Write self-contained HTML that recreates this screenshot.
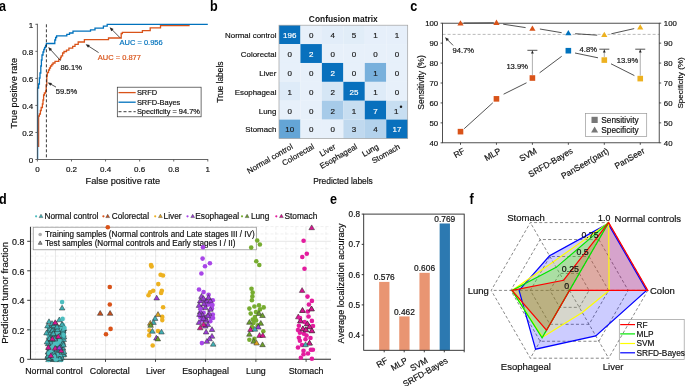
<!DOCTYPE html>
<html><head><meta charset="utf-8"><style>
html,body{margin:0;padding:0;background:#fff;}
svg{display:block;font-family:"Liberation Sans", sans-serif;will-change:transform;}
</style></head><body>
<svg width="685" height="386" viewBox="0 0 685 386">
<rect width="685" height="386" fill="#fff"/>
<text transform="translate(-0.90 10.90) scale(0.9 1)" font-size="14.0" font-weight="bold" fill="#000">a</text>
<text transform="translate(209.90 10.90) scale(0.9 1)" font-size="14.0" font-weight="bold" fill="#000">b</text>
<text transform="translate(410.20 10.90) scale(0.9 1)" font-size="14.0" font-weight="bold" fill="#000">c</text>
<text transform="translate(-1.00 204.00) scale(0.9 1)" font-size="14.0" font-weight="bold" fill="#000">d</text>
<text transform="translate(330.10 204.00) scale(0.9 1)" font-size="14.0" font-weight="bold" fill="#000">e</text>
<text transform="translate(469.60 204.00) scale(0.9 1)" font-size="14.0" font-weight="bold" fill="#000">f</text>
<path d="M38.6,147 V116 H39.4 V114 H40.4 V110.5 H41.2 V107.5 H42.4 V104 H43 V100 H43.6 V95 H44.4 V93 H45.6 V91 H46.2 V85 H46.8 V76 H47.3 V72.5 H48.5 V70 H49.5 V68 H50.5 V66 H51.8 V64.5 H53 V63 H55 V61.3 H58.8 V59.4 H60.5 V57.5 H61.2 V55.8 H62.6 V53 H64 V51.5 H66.5 V50.2 H68.9 V48.2 H72.7 V46.4 H75 V44.3 H78.2 V42 H84.4 V39.6 H108.5 V38 H121.2 V33.5 H122.4 V32.3 H142.4 V30.7 H150.2 V27.8 H160.5 V25.6 H189 V24.6" fill="none" stroke="#D95319" stroke-width="1.3"/>
<path d="M37.6,159.5 V88 H38.6 V84 H39.4 V78 H40 V73 H40.8 V66 H41.4 V60 H42 V55 H43 V52 H43.8 V49.5 H44.6 V47.5 H45.6 V45.5 H46.4 V43.5 H54.8 V40 H55.6 V37.5 H56.6 V35.8 H66.8 V34.4 H69.5 V33 H73 V31.2 H90.5 V29.8 H95 V28.2 H103.4 V26.2 H107.2 V24.3 H207.8" fill="none" stroke="#0072BD" stroke-width="1.3"/>
<line x1="46.40" y1="24.30" x2="46.40" y2="159.50" stroke="#262626" stroke-width="0.9" stroke-dasharray="3,2"/>
<line x1="37.40" y1="23.80" x2="37.40" y2="159.50" stroke="#555" stroke-width="0.9"/>
<line x1="37.40" y1="159.50" x2="208.20" y2="159.50" stroke="#555" stroke-width="0.9"/>
<line x1="35.40" y1="159.50" x2="37.40" y2="159.50" stroke="#555" stroke-width="0.9"/>
<line x1="37.40" y1="159.50" x2="37.40" y2="161.50" stroke="#555" stroke-width="0.9"/>
<text x="33.30" y="162.84" font-size="8.0" text-anchor="end" fill="#111" stroke="#111" stroke-width="0.18">0</text>
<text x="37.40" y="172.34" font-size="8.0" text-anchor="middle" fill="#111" stroke="#111" stroke-width="0.18">0</text>
<line x1="35.40" y1="132.46" x2="37.40" y2="132.46" stroke="#555" stroke-width="0.9"/>
<line x1="71.48" y1="159.50" x2="71.48" y2="161.50" stroke="#555" stroke-width="0.9"/>
<text x="33.30" y="135.80" font-size="8.0" text-anchor="end" fill="#111" stroke="#111" stroke-width="0.18">0.2</text>
<text x="71.48" y="172.34" font-size="8.0" text-anchor="middle" fill="#111" stroke="#111" stroke-width="0.18">0.2</text>
<line x1="35.40" y1="105.42" x2="37.40" y2="105.42" stroke="#555" stroke-width="0.9"/>
<line x1="105.56" y1="159.50" x2="105.56" y2="161.50" stroke="#555" stroke-width="0.9"/>
<text x="33.30" y="108.76" font-size="8.0" text-anchor="end" fill="#111" stroke="#111" stroke-width="0.18">0.4</text>
<text x="105.56" y="172.34" font-size="8.0" text-anchor="middle" fill="#111" stroke="#111" stroke-width="0.18">0.4</text>
<line x1="35.40" y1="78.38" x2="37.40" y2="78.38" stroke="#555" stroke-width="0.9"/>
<line x1="139.64" y1="159.50" x2="139.64" y2="161.50" stroke="#555" stroke-width="0.9"/>
<text x="33.30" y="81.72" font-size="8.0" text-anchor="end" fill="#111" stroke="#111" stroke-width="0.18">0.6</text>
<text x="139.64" y="172.34" font-size="8.0" text-anchor="middle" fill="#111" stroke="#111" stroke-width="0.18">0.6</text>
<line x1="35.40" y1="51.34" x2="37.40" y2="51.34" stroke="#555" stroke-width="0.9"/>
<line x1="173.72" y1="159.50" x2="173.72" y2="161.50" stroke="#555" stroke-width="0.9"/>
<text x="33.30" y="54.68" font-size="8.0" text-anchor="end" fill="#111" stroke="#111" stroke-width="0.18">0.8</text>
<text x="173.72" y="172.34" font-size="8.0" text-anchor="middle" fill="#111" stroke="#111" stroke-width="0.18">0.8</text>
<line x1="35.40" y1="24.30" x2="37.40" y2="24.30" stroke="#555" stroke-width="0.9"/>
<line x1="207.80" y1="159.50" x2="207.80" y2="161.50" stroke="#555" stroke-width="0.9"/>
<text x="33.30" y="27.64" font-size="8.0" text-anchor="end" fill="#111" stroke="#111" stroke-width="0.18">1</text>
<text x="207.80" y="172.34" font-size="8.0" text-anchor="middle" fill="#111" stroke="#111" stroke-width="0.18">1</text>
<text x="122.90" y="184.27" font-size="9.2" text-anchor="middle" fill="#111" stroke="#111" stroke-width="0.18">False positive rate</text>
<text x="13.70" y="96.47" font-size="9.2" text-anchor="middle" fill="#111" stroke="#111" stroke-width="0.18" transform="rotate(-90 13.70 93.20)">True positive rate</text>
<line x1="60.60" y1="60.60" x2="50.23" y2="49.31" stroke="#262626" stroke-width="0.8"/>
<polygon points="48.20,47.10 52.08,48.96 49.73,51.13" fill="#262626"/>
<text x="60.40" y="69.60" font-size="7.6" text-anchor="start" fill="#111" stroke="#111" stroke-width="0.18">86.1%</text>
<line x1="56.00" y1="87.10" x2="50.31" y2="83.88" stroke="#262626" stroke-width="0.8"/>
<polygon points="47.70,82.40 51.97,82.98 50.39,85.76" fill="#262626"/>
<text x="55.80" y="94.40" font-size="7.6" text-anchor="start" fill="#111" stroke="#111" stroke-width="0.18">59.5%</text>
<line x1="98.60" y1="52.60" x2="88.12" y2="45.83" stroke="#262626" stroke-width="0.8"/>
<polygon points="85.60,44.20 89.83,45.03 88.09,47.71" fill="#262626"/>
<text x="97.80" y="59.76" font-size="7.5" text-anchor="start" fill="#D95319" stroke="#D95319" stroke-width="0.18">AUC = 0.877</text>
<line x1="120.00" y1="37.70" x2="111.72" y2="29.42" stroke="#262626" stroke-width="0.8"/>
<polygon points="109.60,27.30 113.56,29.00 111.30,31.26" fill="#262626"/>
<text x="119.50" y="44.86" font-size="7.5" text-anchor="start" fill="#0072BD" stroke="#0072BD" stroke-width="0.18">AUC = 0.956</text>
<rect x="117.3" y="87.2" width="83.8" height="29.6" fill="#fff" stroke="#333" stroke-width="0.7"/>
<line x1="118.50" y1="92.60" x2="135.70" y2="92.60" stroke="#D95319" stroke-width="1.3"/>
<line x1="118.50" y1="102.20" x2="135.70" y2="102.20" stroke="#0072BD" stroke-width="1.3"/>
<line x1="118.50" y1="111.70" x2="135.70" y2="111.70" stroke="#262626" stroke-width="0.9" stroke-dasharray="3,2"/>
<text x="136.90" y="95.24" font-size="7.45" text-anchor="start" fill="#111" stroke="#111" stroke-width="0.18">SRFD</text>
<text x="136.90" y="104.84" font-size="7.45" text-anchor="start" fill="#111" stroke="#111" stroke-width="0.18">SRFD-Bayes</text>
<text x="136.90" y="114.34" font-size="7.45" text-anchor="start" fill="#111" stroke="#111" stroke-width="0.18">Specificity = 94.7%</text>
<rect x="279.00" y="25.20" width="21.50" height="18.93" fill="rgb(8, 112, 189)"/>
<rect x="300.45" y="25.20" width="21.50" height="18.93" fill="rgb(231, 240, 250)"/>
<rect x="321.90" y="25.20" width="21.50" height="18.93" fill="rgb(226, 237, 249)"/>
<rect x="343.35" y="25.20" width="21.50" height="18.93" fill="rgb(225, 237, 248)"/>
<rect x="364.80" y="25.20" width="21.50" height="18.93" fill="rgb(230, 239, 250)"/>
<rect x="386.25" y="25.20" width="21.50" height="18.93" fill="rgb(230, 239, 250)"/>
<rect x="279.00" y="44.08" width="21.50" height="18.93" fill="rgb(231, 240, 250)"/>
<rect x="300.45" y="44.08" width="21.50" height="18.93" fill="rgb(8, 112, 189)"/>
<rect x="321.90" y="44.08" width="21.50" height="18.93" fill="rgb(231, 240, 250)"/>
<rect x="343.35" y="44.08" width="21.50" height="18.93" fill="rgb(231, 240, 250)"/>
<rect x="364.80" y="44.08" width="21.50" height="18.93" fill="rgb(231, 240, 250)"/>
<rect x="386.25" y="44.08" width="21.50" height="18.93" fill="rgb(231, 240, 250)"/>
<rect x="279.00" y="62.96" width="21.50" height="18.93" fill="rgb(231, 240, 250)"/>
<rect x="300.45" y="62.96" width="21.50" height="18.93" fill="rgb(231, 240, 250)"/>
<rect x="321.90" y="62.96" width="21.50" height="18.93" fill="rgb(8, 112, 189)"/>
<rect x="343.35" y="62.96" width="21.50" height="18.93" fill="rgb(231, 240, 250)"/>
<rect x="364.80" y="62.96" width="21.50" height="18.93" fill="rgb(120, 176, 220)"/>
<rect x="386.25" y="62.96" width="21.50" height="18.93" fill="rgb(231, 240, 250)"/>
<rect x="279.00" y="81.84" width="21.50" height="18.93" fill="rgb(222, 235, 248)"/>
<rect x="300.45" y="81.84" width="21.50" height="18.93" fill="rgb(231, 240, 250)"/>
<rect x="321.90" y="81.84" width="21.50" height="18.93" fill="rgb(213, 230, 245)"/>
<rect x="343.35" y="81.84" width="21.50" height="18.93" fill="rgb(8, 112, 189)"/>
<rect x="364.80" y="81.84" width="21.50" height="18.93" fill="rgb(222, 235, 248)"/>
<rect x="386.25" y="81.84" width="21.50" height="18.93" fill="rgb(231, 240, 250)"/>
<rect x="279.00" y="100.72" width="21.50" height="18.93" fill="rgb(231, 240, 250)"/>
<rect x="300.45" y="100.72" width="21.50" height="18.93" fill="rgb(231, 240, 250)"/>
<rect x="321.90" y="100.72" width="21.50" height="18.93" fill="rgb(167, 203, 233)"/>
<rect x="343.35" y="100.72" width="21.50" height="18.93" fill="rgb(199, 222, 241)"/>
<rect x="364.80" y="100.72" width="21.50" height="18.93" fill="rgb(8, 112, 189)"/>
<rect x="386.25" y="100.72" width="21.50" height="18.93" fill="rgb(199, 222, 241)"/>
<rect x="279.00" y="119.60" width="21.50" height="18.93" fill="rgb(100, 165, 214)"/>
<rect x="300.45" y="119.60" width="21.50" height="18.93" fill="rgb(231, 240, 250)"/>
<rect x="321.90" y="119.60" width="21.50" height="18.93" fill="rgb(231, 240, 250)"/>
<rect x="343.35" y="119.60" width="21.50" height="18.93" fill="rgb(192, 217, 239)"/>
<rect x="364.80" y="119.60" width="21.50" height="18.93" fill="rgb(179, 210, 236)"/>
<rect x="386.25" y="119.60" width="21.50" height="18.93" fill="rgb(8, 112, 189)"/>
<text x="289.73" y="38.08" font-size="8.0" text-anchor="middle" fill="#fff" stroke="#fff" stroke-width="0.18">196</text>
<text x="311.18" y="38.08" font-size="8.0" text-anchor="middle" fill="#1a1a1a" stroke="#1a1a1a" stroke-width="0.18">0</text>
<text x="332.62" y="38.08" font-size="8.0" text-anchor="middle" fill="#1a1a1a" stroke="#1a1a1a" stroke-width="0.18">4</text>
<text x="354.07" y="38.08" font-size="8.0" text-anchor="middle" fill="#1a1a1a" stroke="#1a1a1a" stroke-width="0.18">5</text>
<text x="375.52" y="38.08" font-size="8.0" text-anchor="middle" fill="#1a1a1a" stroke="#1a1a1a" stroke-width="0.18">1</text>
<text x="396.98" y="38.08" font-size="8.0" text-anchor="middle" fill="#1a1a1a" stroke="#1a1a1a" stroke-width="0.18">1</text>
<text x="289.73" y="56.96" font-size="8.0" text-anchor="middle" fill="#1a1a1a" stroke="#1a1a1a" stroke-width="0.18">0</text>
<text x="311.18" y="56.96" font-size="8.0" text-anchor="middle" fill="#fff" stroke="#fff" stroke-width="0.18">2</text>
<text x="332.62" y="56.96" font-size="8.0" text-anchor="middle" fill="#1a1a1a" stroke="#1a1a1a" stroke-width="0.18">0</text>
<text x="354.07" y="56.96" font-size="8.0" text-anchor="middle" fill="#1a1a1a" stroke="#1a1a1a" stroke-width="0.18">0</text>
<text x="375.52" y="56.96" font-size="8.0" text-anchor="middle" fill="#1a1a1a" stroke="#1a1a1a" stroke-width="0.18">0</text>
<text x="396.98" y="56.96" font-size="8.0" text-anchor="middle" fill="#1a1a1a" stroke="#1a1a1a" stroke-width="0.18">0</text>
<text x="289.73" y="75.84" font-size="8.0" text-anchor="middle" fill="#1a1a1a" stroke="#1a1a1a" stroke-width="0.18">0</text>
<text x="311.18" y="75.84" font-size="8.0" text-anchor="middle" fill="#1a1a1a" stroke="#1a1a1a" stroke-width="0.18">0</text>
<text x="332.62" y="75.84" font-size="8.0" text-anchor="middle" fill="#fff" stroke="#fff" stroke-width="0.18">2</text>
<text x="354.07" y="75.84" font-size="8.0" text-anchor="middle" fill="#1a1a1a" stroke="#1a1a1a" stroke-width="0.18">0</text>
<text x="375.52" y="75.84" font-size="8.0" text-anchor="middle" fill="#1a1a1a" stroke="#1a1a1a" stroke-width="0.18">1</text>
<text x="396.98" y="75.84" font-size="8.0" text-anchor="middle" fill="#1a1a1a" stroke="#1a1a1a" stroke-width="0.18">0</text>
<text x="289.73" y="94.72" font-size="8.0" text-anchor="middle" fill="#1a1a1a" stroke="#1a1a1a" stroke-width="0.18">1</text>
<text x="311.18" y="94.72" font-size="8.0" text-anchor="middle" fill="#1a1a1a" stroke="#1a1a1a" stroke-width="0.18">0</text>
<text x="332.62" y="94.72" font-size="8.0" text-anchor="middle" fill="#1a1a1a" stroke="#1a1a1a" stroke-width="0.18">2</text>
<text x="354.07" y="94.72" font-size="8.0" text-anchor="middle" fill="#fff" stroke="#fff" stroke-width="0.18">25</text>
<text x="375.52" y="94.72" font-size="8.0" text-anchor="middle" fill="#1a1a1a" stroke="#1a1a1a" stroke-width="0.18">1</text>
<text x="396.98" y="94.72" font-size="8.0" text-anchor="middle" fill="#1a1a1a" stroke="#1a1a1a" stroke-width="0.18">0</text>
<text x="289.73" y="113.60" font-size="8.0" text-anchor="middle" fill="#1a1a1a" stroke="#1a1a1a" stroke-width="0.18">0</text>
<text x="311.18" y="113.60" font-size="8.0" text-anchor="middle" fill="#1a1a1a" stroke="#1a1a1a" stroke-width="0.18">0</text>
<text x="332.62" y="113.60" font-size="8.0" text-anchor="middle" fill="#1a1a1a" stroke="#1a1a1a" stroke-width="0.18">2</text>
<text x="354.07" y="113.60" font-size="8.0" text-anchor="middle" fill="#1a1a1a" stroke="#1a1a1a" stroke-width="0.18">1</text>
<text x="375.52" y="113.60" font-size="8.0" text-anchor="middle" fill="#fff" stroke="#fff" stroke-width="0.18">7</text>
<text x="396.28" y="113.60" font-size="8.0" text-anchor="middle" fill="#1a1a1a" stroke="#1a1a1a" stroke-width="0.18">1</text>
<circle cx="401.0" cy="106.7" r="1.25" fill="#1a1a1a"/>
<text x="289.73" y="132.48" font-size="8.0" text-anchor="middle" fill="#1a1a1a" stroke="#1a1a1a" stroke-width="0.18">10</text>
<text x="311.18" y="132.48" font-size="8.0" text-anchor="middle" fill="#1a1a1a" stroke="#1a1a1a" stroke-width="0.18">0</text>
<text x="332.62" y="132.48" font-size="8.0" text-anchor="middle" fill="#1a1a1a" stroke="#1a1a1a" stroke-width="0.18">0</text>
<text x="354.07" y="132.48" font-size="8.0" text-anchor="middle" fill="#1a1a1a" stroke="#1a1a1a" stroke-width="0.18">3</text>
<text x="375.52" y="132.48" font-size="8.0" text-anchor="middle" fill="#1a1a1a" stroke="#1a1a1a" stroke-width="0.18">4</text>
<text x="396.98" y="132.48" font-size="8.0" text-anchor="middle" fill="#fff" stroke="#fff" stroke-width="0.18">17</text>
<rect x="279.0" y="25.2" width="128.70" height="113.28" fill="none" stroke="#a0a0a0" stroke-width="0.7"/>
<text x="276.40" y="38.04" font-size="7.9" text-anchor="end" fill="#111" stroke="#111" stroke-width="0.18">Normal control</text>
<text x="276.40" y="56.92" font-size="7.9" text-anchor="end" fill="#111" stroke="#111" stroke-width="0.18">Colorectal</text>
<text x="276.40" y="75.80" font-size="7.9" text-anchor="end" fill="#111" stroke="#111" stroke-width="0.18">Liver</text>
<text x="276.40" y="94.68" font-size="7.9" text-anchor="end" fill="#111" stroke="#111" stroke-width="0.18">Esophageal</text>
<text x="276.40" y="113.56" font-size="7.9" text-anchor="end" fill="#111" stroke="#111" stroke-width="0.18">Lung</text>
<text x="276.40" y="132.44" font-size="7.9" text-anchor="end" fill="#111" stroke="#111" stroke-width="0.18">Stomach</text>
<text x="292.03" y="148.60" font-size="7.9" text-anchor="end" fill="#111" stroke="#111" stroke-width="0.18" transform="rotate(-30 292.03 145.80)">Normal control</text>
<text x="313.48" y="148.60" font-size="7.9" text-anchor="end" fill="#111" stroke="#111" stroke-width="0.18" transform="rotate(-30 313.48 145.80)">Colorectal</text>
<text x="334.93" y="148.60" font-size="7.9" text-anchor="end" fill="#111" stroke="#111" stroke-width="0.18" transform="rotate(-30 334.93 145.80)">Liver</text>
<text x="356.38" y="148.60" font-size="7.9" text-anchor="end" fill="#111" stroke="#111" stroke-width="0.18" transform="rotate(-30 356.38 145.80)">Esophageal</text>
<text x="377.82" y="148.60" font-size="7.9" text-anchor="end" fill="#111" stroke="#111" stroke-width="0.18" transform="rotate(-30 377.82 145.80)">Lung</text>
<text x="399.28" y="148.60" font-size="7.9" text-anchor="end" fill="#111" stroke="#111" stroke-width="0.18" transform="rotate(-30 399.28 145.80)">Stomach</text>
<text x="343.30" y="22.18" font-size="8.4" text-anchor="middle" font-weight="bold" fill="#111">Confusion matrix</text>
<text x="343.00" y="183.78" font-size="8.4" text-anchor="middle" fill="#111" stroke="#111" stroke-width="0.18">Predicted labels</text>
<text x="219.80" y="85.08" font-size="8.4" text-anchor="middle" fill="#111" stroke="#111" stroke-width="0.18" transform="rotate(-90 219.80 82.10)">True labels</text>
<line x1="442.60" y1="34.40" x2="659.20" y2="34.40" stroke="#aaa" stroke-width="0.8" stroke-dasharray="3,2"/>
<line x1="464.20" y1="128.70" x2="492.80" y2="102.80" stroke="#262626" stroke-width="0.8"/>
<line x1="503.60" y1="94.20" x2="526.50" y2="82.80" stroke="#262626" stroke-width="0.8"/>
<line x1="539.60" y1="72.80" x2="561.70" y2="56.30" stroke="#262626" stroke-width="0.8"/>
<line x1="575.00" y1="53.00" x2="598.00" y2="57.80" stroke="#262626" stroke-width="0.8"/>
<line x1="611.00" y1="63.80" x2="634.40" y2="75.60" stroke="#262626" stroke-width="0.8"/>
<line x1="463.80" y1="23.00" x2="493.80" y2="22.80" stroke="#262626" stroke-width="0.8"/>
<line x1="503.20" y1="24.20" x2="525.60" y2="27.60" stroke="#262626" stroke-width="0.8"/>
<line x1="539.90" y1="29.00" x2="561.70" y2="32.70" stroke="#262626" stroke-width="0.8"/>
<line x1="575.20" y1="33.70" x2="597.20" y2="35.20" stroke="#262626" stroke-width="0.8"/>
<line x1="611.30" y1="33.80" x2="634.20" y2="28.60" stroke="#262626" stroke-width="0.8"/>
<rect x="442.6" y="23.2" width="216.60" height="119.60" fill="none" stroke="#262626" stroke-width="0.8"/>
<line x1="440.60" y1="142.80" x2="442.60" y2="142.80" stroke="#262626" stroke-width="0.8"/>
<line x1="659.20" y1="142.80" x2="661.20" y2="142.80" stroke="#262626" stroke-width="0.8"/>
<text x="438.20" y="145.57" font-size="7.8" text-anchor="end" fill="#111" stroke="#111" stroke-width="0.18">40</text>
<text x="663.80" y="145.57" font-size="7.8" text-anchor="start" fill="#111" stroke="#111" stroke-width="0.18">40</text>
<line x1="440.60" y1="122.87" x2="442.60" y2="122.87" stroke="#262626" stroke-width="0.8"/>
<line x1="659.20" y1="122.87" x2="661.20" y2="122.87" stroke="#262626" stroke-width="0.8"/>
<text x="438.20" y="125.64" font-size="7.8" text-anchor="end" fill="#111" stroke="#111" stroke-width="0.18">50</text>
<text x="663.80" y="125.64" font-size="7.8" text-anchor="start" fill="#111" stroke="#111" stroke-width="0.18">50</text>
<line x1="440.60" y1="102.93" x2="442.60" y2="102.93" stroke="#262626" stroke-width="0.8"/>
<line x1="659.20" y1="102.93" x2="661.20" y2="102.93" stroke="#262626" stroke-width="0.8"/>
<text x="438.20" y="105.70" font-size="7.8" text-anchor="end" fill="#111" stroke="#111" stroke-width="0.18">60</text>
<text x="663.80" y="105.70" font-size="7.8" text-anchor="start" fill="#111" stroke="#111" stroke-width="0.18">60</text>
<line x1="440.60" y1="83.00" x2="442.60" y2="83.00" stroke="#262626" stroke-width="0.8"/>
<line x1="659.20" y1="83.00" x2="661.20" y2="83.00" stroke="#262626" stroke-width="0.8"/>
<text x="438.20" y="85.77" font-size="7.8" text-anchor="end" fill="#111" stroke="#111" stroke-width="0.18">70</text>
<text x="663.80" y="85.77" font-size="7.8" text-anchor="start" fill="#111" stroke="#111" stroke-width="0.18">70</text>
<line x1="440.60" y1="63.07" x2="442.60" y2="63.07" stroke="#262626" stroke-width="0.8"/>
<line x1="659.20" y1="63.07" x2="661.20" y2="63.07" stroke="#262626" stroke-width="0.8"/>
<text x="438.20" y="65.84" font-size="7.8" text-anchor="end" fill="#111" stroke="#111" stroke-width="0.18">80</text>
<text x="663.80" y="65.84" font-size="7.8" text-anchor="start" fill="#111" stroke="#111" stroke-width="0.18">80</text>
<line x1="440.60" y1="43.13" x2="442.60" y2="43.13" stroke="#262626" stroke-width="0.8"/>
<line x1="659.20" y1="43.13" x2="661.20" y2="43.13" stroke="#262626" stroke-width="0.8"/>
<text x="438.20" y="45.90" font-size="7.8" text-anchor="end" fill="#111" stroke="#111" stroke-width="0.18">90</text>
<text x="663.80" y="45.90" font-size="7.8" text-anchor="start" fill="#111" stroke="#111" stroke-width="0.18">90</text>
<line x1="440.60" y1="23.20" x2="442.60" y2="23.20" stroke="#262626" stroke-width="0.8"/>
<line x1="659.20" y1="23.20" x2="661.20" y2="23.20" stroke="#262626" stroke-width="0.8"/>
<text x="438.20" y="25.97" font-size="7.8" text-anchor="end" fill="#111" stroke="#111" stroke-width="0.18">100</text>
<text x="663.80" y="25.97" font-size="7.8" text-anchor="start" fill="#111" stroke="#111" stroke-width="0.18">100</text>
<line x1="460.50" y1="142.80" x2="460.50" y2="144.80" stroke="#262626" stroke-width="0.8"/>
<text x="464.10" y="153.02" font-size="8.5" text-anchor="end" fill="#111" stroke="#111" stroke-width="0.18" transform="rotate(-30 464.10 150.00)">RF</text>
<line x1="496.45" y1="142.80" x2="496.45" y2="144.80" stroke="#262626" stroke-width="0.8"/>
<text x="500.05" y="153.02" font-size="8.5" text-anchor="end" fill="#111" stroke="#111" stroke-width="0.18" transform="rotate(-30 500.05 150.00)">MLP</text>
<line x1="532.40" y1="142.80" x2="532.40" y2="144.80" stroke="#262626" stroke-width="0.8"/>
<text x="536.00" y="153.02" font-size="8.5" text-anchor="end" fill="#111" stroke="#111" stroke-width="0.18" transform="rotate(-30 536.00 150.00)">SVM</text>
<line x1="568.35" y1="142.80" x2="568.35" y2="144.80" stroke="#262626" stroke-width="0.8"/>
<text x="571.95" y="153.02" font-size="8.5" text-anchor="end" fill="#111" stroke="#111" stroke-width="0.18" transform="rotate(-30 571.95 150.00)">SRFD-Bayes</text>
<line x1="604.30" y1="142.80" x2="604.30" y2="144.80" stroke="#262626" stroke-width="0.8"/>
<text x="607.90" y="153.02" font-size="8.5" text-anchor="end" fill="#111" stroke="#111" stroke-width="0.18" transform="rotate(-30 607.90 150.00)">PanSeer(part)</text>
<line x1="640.25" y1="142.80" x2="640.25" y2="144.80" stroke="#262626" stroke-width="0.8"/>
<text x="643.85" y="153.02" font-size="8.5" text-anchor="end" fill="#111" stroke="#111" stroke-width="0.18" transform="rotate(-30 643.85 150.00)">PanSeer</text>
<line x1="532.40" y1="50.30" x2="532.40" y2="75.02" stroke="#9a9a9a" stroke-width="0.8"/>
<line x1="527.40" y1="50.30" x2="537.40" y2="50.30" stroke="#262626" stroke-width="0.8"/>
<polygon points="532.40,50.60 531.00,53.60 533.80,53.60" fill="#262626"/>
<line x1="604.30" y1="49.20" x2="604.30" y2="57.08" stroke="#9a9a9a" stroke-width="0.8"/>
<line x1="599.30" y1="49.20" x2="609.30" y2="49.20" stroke="#262626" stroke-width="0.8"/>
<polygon points="604.30,49.50 602.90,52.50 605.70,52.50" fill="#262626"/>
<line x1="640.25" y1="49.20" x2="640.25" y2="75.61" stroke="#9a9a9a" stroke-width="0.8"/>
<line x1="635.25" y1="49.20" x2="645.25" y2="49.20" stroke="#262626" stroke-width="0.8"/>
<polygon points="640.25,49.50 638.85,52.50 641.65,52.50" fill="#262626"/>
<text x="506.40" y="69.30" font-size="7.6" text-anchor="start" fill="#111" stroke="#111" stroke-width="0.18">13.9%</text>
<text x="579.60" y="51.70" font-size="7.6" text-anchor="start" fill="#111" stroke="#111" stroke-width="0.18">4.8%</text>
<text x="616.80" y="62.90" font-size="7.6" text-anchor="start" fill="#111" stroke="#111" stroke-width="0.18">13.9%</text>
<line x1="453.10" y1="45.40" x2="447.11" y2="39.33" stroke="#262626" stroke-width="0.8"/>
<polygon points="445.00,37.20 448.95,38.92 446.67,41.17" fill="#262626"/>
<text x="452.60" y="53.10" font-size="7.6" text-anchor="start" fill="#111" stroke="#111" stroke-width="0.18">94.7%</text>
<rect x="457.70" y="128.84" width="5.6" height="5.6" fill="#D95319"/>
<polygon points="460.50,20.20 457.40,25.50 463.60,25.50" fill="#D95319"/>
<rect x="493.65" y="96.05" width="5.6" height="5.6" fill="#D95319"/>
<polygon points="496.45,19.60 493.35,24.90 499.55,24.90" fill="#D95319"/>
<rect x="529.60" y="75.22" width="5.6" height="5.6" fill="#D95319"/>
<polygon points="532.40,25.38 529.30,30.68 535.50,30.68" fill="#D95319"/>
<rect x="565.55" y="47.91" width="5.6" height="5.6" fill="#0072BD"/>
<polygon points="568.35,29.97 565.25,35.27 571.45,35.27" fill="#0072BD"/>
<rect x="601.50" y="57.28" width="5.6" height="5.6" fill="#EDB120"/>
<polygon points="604.30,31.76 601.20,37.06 607.40,37.06" fill="#EDB120"/>
<rect x="637.45" y="75.81" width="5.6" height="5.6" fill="#EDB120"/>
<polygon points="640.25,24.19 637.15,29.49 643.35,29.49" fill="#EDB120"/>
<text x="420.60" y="85.45" font-size="8.6" text-anchor="middle" fill="#111" stroke="#111" stroke-width="0.18" transform="rotate(-90 420.60 82.40)">Sensitivity (%)</text>
<text x="680.30" y="85.78" font-size="8.1" text-anchor="middle" fill="#111" stroke="#111" stroke-width="0.18" transform="rotate(-90 680.30 82.90)">Specificity (%)</text>
<rect x="585.4" y="113.5" width="61.3" height="23" fill="#fff" stroke="#999" stroke-width="0.7"/>
<rect x="591.5" y="116.8" width="6.2" height="6.2" fill="#777"/>
<polygon points="594.6,126.6 591.1,132.5 598.1,132.5" fill="#777"/>
<text x="601.30" y="123.15" font-size="8.3" text-anchor="start" fill="#111" stroke="#111" stroke-width="0.18">Sensitivity</text>
<text x="601.30" y="132.85" font-size="8.3" text-anchor="start" fill="#111" stroke="#111" stroke-width="0.18">Specificity</text>
<line x1="30.50" y1="359.30" x2="331.00" y2="359.30" stroke="#dcdcdc" stroke-width="0.7"/>
<line x1="30.50" y1="351.93" x2="331.00" y2="351.93" stroke="#e6e6e6" stroke-width="0.6" stroke-dasharray="3,2"/>
<line x1="30.50" y1="344.55" x2="331.00" y2="344.55" stroke="#e6e6e6" stroke-width="0.6" stroke-dasharray="3,2"/>
<line x1="30.50" y1="337.18" x2="331.00" y2="337.18" stroke="#e6e6e6" stroke-width="0.6" stroke-dasharray="3,2"/>
<line x1="30.50" y1="329.80" x2="331.00" y2="329.80" stroke="#dcdcdc" stroke-width="0.7"/>
<line x1="30.50" y1="322.43" x2="331.00" y2="322.43" stroke="#e6e6e6" stroke-width="0.6" stroke-dasharray="3,2"/>
<line x1="30.50" y1="315.05" x2="331.00" y2="315.05" stroke="#e6e6e6" stroke-width="0.6" stroke-dasharray="3,2"/>
<line x1="30.50" y1="307.68" x2="331.00" y2="307.68" stroke="#e6e6e6" stroke-width="0.6" stroke-dasharray="3,2"/>
<line x1="30.50" y1="300.30" x2="331.00" y2="300.30" stroke="#dcdcdc" stroke-width="0.7"/>
<line x1="30.50" y1="292.93" x2="331.00" y2="292.93" stroke="#e6e6e6" stroke-width="0.6" stroke-dasharray="3,2"/>
<line x1="30.50" y1="285.55" x2="331.00" y2="285.55" stroke="#e6e6e6" stroke-width="0.6" stroke-dasharray="3,2"/>
<line x1="30.50" y1="278.18" x2="331.00" y2="278.18" stroke="#e6e6e6" stroke-width="0.6" stroke-dasharray="3,2"/>
<line x1="30.50" y1="270.80" x2="331.00" y2="270.80" stroke="#dcdcdc" stroke-width="0.7"/>
<line x1="30.50" y1="263.43" x2="331.00" y2="263.43" stroke="#e6e6e6" stroke-width="0.6" stroke-dasharray="3,2"/>
<line x1="30.50" y1="256.05" x2="331.00" y2="256.05" stroke="#e6e6e6" stroke-width="0.6" stroke-dasharray="3,2"/>
<line x1="30.50" y1="248.68" x2="331.00" y2="248.68" stroke="#e6e6e6" stroke-width="0.6" stroke-dasharray="3,2"/>
<line x1="30.50" y1="241.30" x2="331.00" y2="241.30" stroke="#dcdcdc" stroke-width="0.7"/>
<line x1="30.50" y1="233.93" x2="331.00" y2="233.93" stroke="#e6e6e6" stroke-width="0.6" stroke-dasharray="3,2"/>
<line x1="30.50" y1="226.55" x2="331.00" y2="226.55" stroke="#e6e6e6" stroke-width="0.6" stroke-dasharray="3,2"/>
<line x1="35.40" y1="226.80" x2="35.40" y2="359.30" stroke="#e6e6e6" stroke-width="0.6" stroke-dasharray="3,2"/>
<line x1="45.42" y1="226.80" x2="45.42" y2="359.30" stroke="#e6e6e6" stroke-width="0.6" stroke-dasharray="3,2"/>
<line x1="55.44" y1="226.80" x2="55.44" y2="359.30" stroke="#dcdcdc" stroke-width="0.7"/>
<line x1="65.46" y1="226.80" x2="65.46" y2="359.30" stroke="#e6e6e6" stroke-width="0.6" stroke-dasharray="3,2"/>
<line x1="75.48" y1="226.80" x2="75.48" y2="359.30" stroke="#e6e6e6" stroke-width="0.6" stroke-dasharray="3,2"/>
<line x1="85.50" y1="226.80" x2="85.50" y2="359.30" stroke="#e6e6e6" stroke-width="0.6" stroke-dasharray="3,2"/>
<line x1="95.52" y1="226.80" x2="95.52" y2="359.30" stroke="#e6e6e6" stroke-width="0.6" stroke-dasharray="3,2"/>
<line x1="105.54" y1="226.80" x2="105.54" y2="359.30" stroke="#dcdcdc" stroke-width="0.7"/>
<line x1="115.56" y1="226.80" x2="115.56" y2="359.30" stroke="#e6e6e6" stroke-width="0.6" stroke-dasharray="3,2"/>
<line x1="125.58" y1="226.80" x2="125.58" y2="359.30" stroke="#e6e6e6" stroke-width="0.6" stroke-dasharray="3,2"/>
<line x1="135.60" y1="226.80" x2="135.60" y2="359.30" stroke="#e6e6e6" stroke-width="0.6" stroke-dasharray="3,2"/>
<line x1="145.62" y1="226.80" x2="145.62" y2="359.30" stroke="#e6e6e6" stroke-width="0.6" stroke-dasharray="3,2"/>
<line x1="155.64" y1="226.80" x2="155.64" y2="359.30" stroke="#dcdcdc" stroke-width="0.7"/>
<line x1="165.66" y1="226.80" x2="165.66" y2="359.30" stroke="#e6e6e6" stroke-width="0.6" stroke-dasharray="3,2"/>
<line x1="175.68" y1="226.80" x2="175.68" y2="359.30" stroke="#e6e6e6" stroke-width="0.6" stroke-dasharray="3,2"/>
<line x1="185.70" y1="226.80" x2="185.70" y2="359.30" stroke="#e6e6e6" stroke-width="0.6" stroke-dasharray="3,2"/>
<line x1="195.72" y1="226.80" x2="195.72" y2="359.30" stroke="#e6e6e6" stroke-width="0.6" stroke-dasharray="3,2"/>
<line x1="205.74" y1="226.80" x2="205.74" y2="359.30" stroke="#dcdcdc" stroke-width="0.7"/>
<line x1="215.76" y1="226.80" x2="215.76" y2="359.30" stroke="#e6e6e6" stroke-width="0.6" stroke-dasharray="3,2"/>
<line x1="225.78" y1="226.80" x2="225.78" y2="359.30" stroke="#e6e6e6" stroke-width="0.6" stroke-dasharray="3,2"/>
<line x1="235.80" y1="226.80" x2="235.80" y2="359.30" stroke="#e6e6e6" stroke-width="0.6" stroke-dasharray="3,2"/>
<line x1="245.82" y1="226.80" x2="245.82" y2="359.30" stroke="#e6e6e6" stroke-width="0.6" stroke-dasharray="3,2"/>
<line x1="255.84" y1="226.80" x2="255.84" y2="359.30" stroke="#dcdcdc" stroke-width="0.7"/>
<line x1="265.86" y1="226.80" x2="265.86" y2="359.30" stroke="#e6e6e6" stroke-width="0.6" stroke-dasharray="3,2"/>
<line x1="275.88" y1="226.80" x2="275.88" y2="359.30" stroke="#e6e6e6" stroke-width="0.6" stroke-dasharray="3,2"/>
<line x1="285.90" y1="226.80" x2="285.90" y2="359.30" stroke="#e6e6e6" stroke-width="0.6" stroke-dasharray="3,2"/>
<line x1="295.92" y1="226.80" x2="295.92" y2="359.30" stroke="#e6e6e6" stroke-width="0.6" stroke-dasharray="3,2"/>
<line x1="305.94" y1="226.80" x2="305.94" y2="359.30" stroke="#dcdcdc" stroke-width="0.7"/>
<line x1="315.96" y1="226.80" x2="315.96" y2="359.30" stroke="#e6e6e6" stroke-width="0.6" stroke-dasharray="3,2"/>
<line x1="325.98" y1="226.80" x2="325.98" y2="359.30" stroke="#e6e6e6" stroke-width="0.6" stroke-dasharray="3,2"/>
<line x1="30.50" y1="226.80" x2="30.50" y2="359.30" stroke="#333" stroke-width="1.1"/>
<line x1="30.50" y1="359.30" x2="331.00" y2="359.30" stroke="#333" stroke-width="1.1"/>
<line x1="27.20" y1="359.30" x2="30.50" y2="359.30" stroke="#262626" stroke-width="0.9"/>
<text x="24.40" y="363.06" font-size="8.9" text-anchor="end" fill="#111" stroke="#111" stroke-width="0.18">0</text>
<line x1="27.20" y1="329.80" x2="30.50" y2="329.80" stroke="#262626" stroke-width="0.9"/>
<text x="24.40" y="333.56" font-size="8.9" text-anchor="end" fill="#111" stroke="#111" stroke-width="0.18">0.2</text>
<line x1="27.20" y1="300.30" x2="30.50" y2="300.30" stroke="#262626" stroke-width="0.9"/>
<text x="24.40" y="304.06" font-size="8.9" text-anchor="end" fill="#111" stroke="#111" stroke-width="0.18">0.4</text>
<line x1="27.20" y1="270.80" x2="30.50" y2="270.80" stroke="#262626" stroke-width="0.9"/>
<text x="24.40" y="274.56" font-size="8.9" text-anchor="end" fill="#111" stroke="#111" stroke-width="0.18">0.6</text>
<line x1="27.20" y1="241.30" x2="30.50" y2="241.30" stroke="#262626" stroke-width="0.9"/>
<text x="24.40" y="245.06" font-size="8.9" text-anchor="end" fill="#111" stroke="#111" stroke-width="0.18">0.8</text>
<line x1="55.50" y1="359.30" x2="55.50" y2="361.90" stroke="#333" stroke-width="0.9"/>
<text x="53.90" y="373.74" font-size="8.85" text-anchor="middle" fill="#111" stroke="#111" stroke-width="0.18">Normal control</text>
<line x1="105.50" y1="359.30" x2="105.50" y2="361.90" stroke="#333" stroke-width="0.9"/>
<text x="109.70" y="373.74" font-size="8.85" text-anchor="middle" fill="#111" stroke="#111" stroke-width="0.18">Colorectal</text>
<line x1="155.50" y1="359.30" x2="155.50" y2="361.90" stroke="#333" stroke-width="0.9"/>
<text x="155.50" y="373.74" font-size="8.85" text-anchor="middle" fill="#111" stroke="#111" stroke-width="0.18">Liver</text>
<line x1="205.50" y1="359.30" x2="205.50" y2="361.90" stroke="#333" stroke-width="0.9"/>
<text x="205.50" y="373.74" font-size="8.85" text-anchor="middle" fill="#111" stroke="#111" stroke-width="0.18">Esophageal</text>
<line x1="255.90" y1="359.30" x2="255.90" y2="361.90" stroke="#333" stroke-width="0.9"/>
<text x="255.90" y="373.74" font-size="8.85" text-anchor="middle" fill="#111" stroke="#111" stroke-width="0.18">Lung</text>
<line x1="306.10" y1="359.30" x2="306.10" y2="361.90" stroke="#333" stroke-width="0.9"/>
<text x="306.10" y="373.74" font-size="8.85" text-anchor="middle" fill="#111" stroke="#111" stroke-width="0.18">Stomach</text>
<text x="5.00" y="296.31" font-size="9.6" text-anchor="middle" fill="#111" stroke="#111" stroke-width="0.18" transform="rotate(-90 5.00 292.90)">Predicted tumor fraction</text>
<rect x="33.2" y="227.2" width="223.1" height="22.6" fill="#fff" fill-opacity="0.85" stroke="#888" stroke-width="0.7"/>
<circle cx="40.2" cy="234.5" r="1.8" fill="#aaa"/>
<polygon points="40.2,240.9 38.3,244.3 42.1,244.3" fill="#999" stroke="#333" stroke-width="0.6"/>
<text x="45.00" y="237.39" font-size="8.15" text-anchor="start" fill="#111" stroke="#111" stroke-width="0.18">Training samples (Normal controls and Late stages III / IV)</text>
<text x="45.00" y="246.19" font-size="8.15" text-anchor="start" fill="#111" stroke="#111" stroke-width="0.18">Test samples (Normal controls and Early stages I / II)</text>
<circle cx="36.1" cy="216.3" r="1.1" fill="#4DBEC0"/>
<polygon points="41.0,214.2 39.1,217.6 42.9,217.6" fill="#3FB0B5" stroke="#333" stroke-width="0.4"/>
<text x="44.50" y="219.25" font-size="8.3" text-anchor="start" fill="#111" stroke="#111" stroke-width="0.18">Normal control</text>
<circle cx="103.4" cy="216.3" r="1.1" fill="#D95319"/>
<polygon points="107.7,214.2 105.8,217.6 109.60000000000001,217.6" fill="#C8501E" stroke="#333" stroke-width="0.4"/>
<text x="111.70" y="219.25" font-size="8.3" text-anchor="start" fill="#111" stroke="#111" stroke-width="0.18">Colorectal</text>
<circle cx="155.2" cy="216.3" r="1.1" fill="#EDB120"/>
<polygon points="160.4,214.2 158.5,217.6 162.3,217.6" fill="#E0A520" stroke="#333" stroke-width="0.4"/>
<text x="163.60" y="219.25" font-size="8.3" text-anchor="start" fill="#111" stroke="#111" stroke-width="0.18">Liver</text>
<circle cx="187.5" cy="216.3" r="1.1" fill="#A846E8"/>
<polygon points="192.7,214.2 190.79999999999998,217.6 194.6,217.6" fill="#9A3CD8" stroke="#333" stroke-width="0.4"/>
<text x="195.30" y="219.25" font-size="8.3" text-anchor="start" fill="#111" stroke="#111" stroke-width="0.18">Esophageal</text>
<circle cx="242.0" cy="216.3" r="1.1" fill="#77AC30"/>
<polygon points="247.1,214.2 245.2,217.6 249.0,217.6" fill="#6B9E2A" stroke="#333" stroke-width="0.4"/>
<text x="250.90" y="219.25" font-size="8.3" text-anchor="start" fill="#111" stroke="#111" stroke-width="0.18">Lung</text>
<circle cx="276.3" cy="216.3" r="1.1" fill="#E31C9E"/>
<polygon points="281.4,214.2 279.5,217.6 283.29999999999995,217.6" fill="#D81490" stroke="#333" stroke-width="0.4"/>
<text x="284.50" y="219.25" font-size="8.3" text-anchor="start" fill="#111" stroke="#111" stroke-width="0.18">Stomach</text>
<polygon points="56.5,351.4 53.7,356.2 59.3,356.2" fill="#3FB0B5" stroke="#2a2a2a" stroke-width="0.5"/>
<circle cx="57.9" cy="340.8" r="2.3" fill="#4DBEC0"/>
<circle cx="61.4" cy="359.9" r="2.3" fill="#4DBEC0"/>
<polygon points="64.0,351.5 61.2,356.3 66.8,356.3" fill="#3FB0B5" stroke="#2a2a2a" stroke-width="0.5"/>
<polygon points="55.4,327.8 52.6,332.6 58.2,332.6" fill="#3FB0B5" stroke="#2a2a2a" stroke-width="0.5"/>
<polygon points="58.0,353.9 55.2,358.7 60.8,358.7" fill="#3FB0B5" stroke="#2a2a2a" stroke-width="0.5"/>
<polygon points="59.8,341.2 57.0,346.0 62.6,346.0" fill="#3FB0B5" stroke="#2a2a2a" stroke-width="0.5"/>
<polygon points="60.1,356.1 57.3,360.9 62.9,360.9" fill="#3FB0B5" stroke="#2a2a2a" stroke-width="0.5"/>
<polygon points="48.0,349.3 45.2,354.1 50.8,354.1" fill="#3FB0B5" stroke="#2a2a2a" stroke-width="0.5"/>
<polygon points="59.4,343.1 56.6,347.9 62.2,347.9" fill="#3FB0B5" stroke="#2a2a2a" stroke-width="0.5"/>
<polygon points="62.8,333.2 60.0,338.0 65.6,338.0" fill="#3FB0B5" stroke="#2a2a2a" stroke-width="0.5"/>
<polygon points="54.9,329.4 52.1,334.2 57.7,334.2" fill="#3FB0B5" stroke="#2a2a2a" stroke-width="0.5"/>
<circle cx="49.1" cy="328.7" r="2.3" fill="#4DBEC0"/>
<polygon points="63.5,352.0 60.7,356.8 66.3,356.8" fill="#3FB0B5" stroke="#2a2a2a" stroke-width="0.5"/>
<polygon points="52.5,336.9 49.7,341.7 55.3,341.7" fill="#3FB0B5" stroke="#2a2a2a" stroke-width="0.5"/>
<polygon points="53.3,346.4 50.5,351.2 56.1,351.2" fill="#3FB0B5" stroke="#2a2a2a" stroke-width="0.5"/>
<polygon points="62.5,338.7 59.7,343.5 65.3,343.5" fill="#3FB0B5" stroke="#2a2a2a" stroke-width="0.5"/>
<polygon points="61.7,323.5 58.9,328.3 64.5,328.3" fill="#3FB0B5" stroke="#2a2a2a" stroke-width="0.5"/>
<polygon points="50.2,335.1 47.4,339.9 53.0,339.9" fill="#3FB0B5" stroke="#2a2a2a" stroke-width="0.5"/>
<polygon points="62.5,321.8 59.7,326.6 65.3,326.6" fill="#3FB0B5" stroke="#2a2a2a" stroke-width="0.5"/>
<polygon points="51.0,333.2 48.2,338.0 53.8,338.0" fill="#3FB0B5" stroke="#2a2a2a" stroke-width="0.5"/>
<circle cx="52.2" cy="342.0" r="2.3" fill="#4DBEC0"/>
<circle cx="63.9" cy="329.9" r="2.3" fill="#4DBEC0"/>
<circle cx="54.3" cy="332.3" r="2.3" fill="#4DBEC0"/>
<polygon points="60.3,349.6 57.5,354.4 63.1,354.4" fill="#3FB0B5" stroke="#2a2a2a" stroke-width="0.5"/>
<circle cx="57.7" cy="359.4" r="2.3" fill="#4DBEC0"/>
<polygon points="53.0,333.0 50.2,337.8 55.8,337.8" fill="#3FB0B5" stroke="#2a2a2a" stroke-width="0.5"/>
<polygon points="55.9,321.0 53.1,325.8 58.7,325.8" fill="#3FB0B5" stroke="#2a2a2a" stroke-width="0.5"/>
<polygon points="48.8,349.0 46.0,353.8 51.6,353.8" fill="#3FB0B5" stroke="#2a2a2a" stroke-width="0.5"/>
<polygon points="50.8,356.7 48.0,361.5 53.6,361.5" fill="#3FB0B5" stroke="#2a2a2a" stroke-width="0.5"/>
<circle cx="50.1" cy="340.5" r="2.3" fill="#4DBEC0"/>
<polygon points="52.7,326.3 49.9,331.1 55.5,331.1" fill="#3FB0B5" stroke="#2a2a2a" stroke-width="0.5"/>
<polygon points="53.8,325.0 51.0,329.8 56.6,329.8" fill="#3FB0B5" stroke="#2a2a2a" stroke-width="0.5"/>
<polygon points="58.2,341.3 55.4,346.1 61.0,346.1" fill="#3FB0B5" stroke="#2a2a2a" stroke-width="0.5"/>
<polygon points="57.8,339.7 55.0,344.5 60.6,344.5" fill="#3FB0B5" stroke="#2a2a2a" stroke-width="0.5"/>
<polygon points="54.7,341.8 51.9,346.6 57.5,346.6" fill="#3FB0B5" stroke="#2a2a2a" stroke-width="0.5"/>
<polygon points="52.5,351.4 49.7,356.2 55.3,356.2" fill="#3FB0B5" stroke="#2a2a2a" stroke-width="0.5"/>
<circle cx="56.6" cy="344.1" r="2.3" fill="#4DBEC0"/>
<circle cx="57.1" cy="348.2" r="2.3" fill="#4DBEC0"/>
<circle cx="58.0" cy="340.3" r="2.3" fill="#4DBEC0"/>
<polygon points="55.2,336.9 52.4,341.7 58.0,341.7" fill="#3FB0B5" stroke="#2a2a2a" stroke-width="0.5"/>
<polygon points="59.2,347.6 56.4,352.4 62.0,352.4" fill="#3FB0B5" stroke="#2a2a2a" stroke-width="0.5"/>
<polygon points="48.5,356.8 45.7,361.6 51.3,361.6" fill="#3FB0B5" stroke="#2a2a2a" stroke-width="0.5"/>
<polygon points="51.7,321.9 48.9,326.7 54.5,326.7" fill="#3FB0B5" stroke="#2a2a2a" stroke-width="0.5"/>
<polygon points="52.8,338.4 50.0,343.2 55.6,343.2" fill="#3FB0B5" stroke="#2a2a2a" stroke-width="0.5"/>
<polygon points="53.6,348.9 50.8,353.7 56.4,353.7" fill="#3FB0B5" stroke="#2a2a2a" stroke-width="0.5"/>
<polygon points="53.8,349.4 51.0,354.2 56.6,354.2" fill="#3FB0B5" stroke="#2a2a2a" stroke-width="0.5"/>
<polygon points="56.9,356.8 54.1,361.6 59.7,361.6" fill="#3FB0B5" stroke="#2a2a2a" stroke-width="0.5"/>
<polygon points="51.2,349.0 48.4,353.8 54.0,353.8" fill="#3FB0B5" stroke="#2a2a2a" stroke-width="0.5"/>
<polygon points="50.6,351.4 47.8,356.2 53.4,356.2" fill="#3FB0B5" stroke="#2a2a2a" stroke-width="0.5"/>
<polygon points="49.2,333.9 46.4,338.7 52.0,338.7" fill="#3FB0B5" stroke="#2a2a2a" stroke-width="0.5"/>
<polygon points="61.3,348.2 58.5,353.0 64.1,353.0" fill="#3FB0B5" stroke="#2a2a2a" stroke-width="0.5"/>
<polygon points="50.3,326.9 47.5,331.7 53.1,331.7" fill="#3FB0B5" stroke="#2a2a2a" stroke-width="0.5"/>
<polygon points="62.2,336.0 59.4,340.8 65.0,340.8" fill="#3FB0B5" stroke="#2a2a2a" stroke-width="0.5"/>
<polygon points="49.5,351.8 46.7,356.6 52.3,356.6" fill="#3FB0B5" stroke="#2a2a2a" stroke-width="0.5"/>
<polygon points="60.9,352.8 58.1,357.6 63.7,357.6" fill="#3FB0B5" stroke="#2a2a2a" stroke-width="0.5"/>
<polygon points="52.1,353.0 49.3,357.8 54.9,357.8" fill="#3FB0B5" stroke="#2a2a2a" stroke-width="0.5"/>
<polygon points="60.9,336.3 58.1,341.1 63.7,341.1" fill="#3FB0B5" stroke="#2a2a2a" stroke-width="0.5"/>
<polygon points="52.3,354.5 49.5,359.3 55.1,359.3" fill="#3FB0B5" stroke="#2a2a2a" stroke-width="0.5"/>
<polygon points="53.2,350.3 50.4,355.1 56.0,355.1" fill="#3FB0B5" stroke="#2a2a2a" stroke-width="0.5"/>
<polygon points="54.3,345.1 51.5,349.9 57.1,349.9" fill="#3FB0B5" stroke="#2a2a2a" stroke-width="0.5"/>
<polygon points="47.6,353.8 44.8,358.6 50.4,358.6" fill="#3FB0B5" stroke="#2a2a2a" stroke-width="0.5"/>
<polygon points="63.9,325.8 61.1,330.6 66.7,330.6" fill="#3FB0B5" stroke="#2a2a2a" stroke-width="0.5"/>
<circle cx="62.9" cy="325.4" r="2.3" fill="#4DBEC0"/>
<polygon points="61.4,331.8 58.6,336.6 64.2,336.6" fill="#3FB0B5" stroke="#2a2a2a" stroke-width="0.5"/>
<polygon points="52.3,341.3 49.5,346.1 55.1,346.1" fill="#3FB0B5" stroke="#2a2a2a" stroke-width="0.5"/>
<polygon points="48.6,351.7 45.8,356.5 51.4,356.5" fill="#3FB0B5" stroke="#2a2a2a" stroke-width="0.5"/>
<circle cx="60.9" cy="352.7" r="2.3" fill="#4DBEC0"/>
<polygon points="59.0,324.7 56.2,329.5 61.8,329.5" fill="#3FB0B5" stroke="#2a2a2a" stroke-width="0.5"/>
<polygon points="62.4,325.0 59.6,329.8 65.2,329.8" fill="#3FB0B5" stroke="#2a2a2a" stroke-width="0.5"/>
<circle cx="59.9" cy="359.9" r="2.3" fill="#4DBEC0"/>
<polygon points="58.5,349.4 55.7,354.2 61.3,354.2" fill="#3FB0B5" stroke="#2a2a2a" stroke-width="0.5"/>
<polygon points="63.1,345.4 60.3,350.2 65.9,350.2" fill="#3FB0B5" stroke="#2a2a2a" stroke-width="0.5"/>
<polygon points="51.7,348.0 48.9,352.8 54.5,352.8" fill="#3FB0B5" stroke="#2a2a2a" stroke-width="0.5"/>
<polygon points="60.5,343.0 57.7,347.8 63.3,347.8" fill="#3FB0B5" stroke="#2a2a2a" stroke-width="0.5"/>
<polygon points="56.4,352.6 53.6,357.4 59.2,357.4" fill="#3FB0B5" stroke="#2a2a2a" stroke-width="0.5"/>
<polygon points="60.6,353.4 57.8,358.2 63.4,358.2" fill="#3FB0B5" stroke="#2a2a2a" stroke-width="0.5"/>
<circle cx="61.2" cy="332.0" r="2.3" fill="#4DBEC0"/>
<circle cx="61.8" cy="339.8" r="2.3" fill="#4DBEC0"/>
<polygon points="52.0,350.3 49.2,355.1 54.8,355.1" fill="#3FB0B5" stroke="#2a2a2a" stroke-width="0.5"/>
<polygon points="55.4,345.0 52.6,349.8 58.2,349.8" fill="#3FB0B5" stroke="#2a2a2a" stroke-width="0.5"/>
<circle cx="48.4" cy="360.0" r="2.3" fill="#4DBEC0"/>
<polygon points="48.6,354.6 45.8,359.4 51.4,359.4" fill="#3FB0B5" stroke="#2a2a2a" stroke-width="0.5"/>
<polygon points="48.9,326.9 46.1,331.7 51.7,331.7" fill="#3FB0B5" stroke="#2a2a2a" stroke-width="0.5"/>
<polygon points="52.7,348.8 49.9,353.6 55.5,353.6" fill="#3FB0B5" stroke="#2a2a2a" stroke-width="0.5"/>
<polygon points="57.2,336.1 54.4,340.9 60.0,340.9" fill="#3FB0B5" stroke="#2a2a2a" stroke-width="0.5"/>
<circle cx="53.0" cy="355.7" r="2.3" fill="#4DBEC0"/>
<polygon points="59.4,339.9 56.6,344.7 62.2,344.7" fill="#3FB0B5" stroke="#2a2a2a" stroke-width="0.5"/>
<polygon points="50.5,355.7 47.7,360.5 53.3,360.5" fill="#3FB0B5" stroke="#2a2a2a" stroke-width="0.5"/>
<polygon points="60.5,337.9 57.7,342.7 63.3,342.7" fill="#3FB0B5" stroke="#2a2a2a" stroke-width="0.5"/>
<polygon points="57.8,329.4 55.0,334.2 60.6,334.2" fill="#3FB0B5" stroke="#2a2a2a" stroke-width="0.5"/>
<polygon points="55.7,346.9 52.9,351.7 58.5,351.7" fill="#3FB0B5" stroke="#2a2a2a" stroke-width="0.5"/>
<polygon points="59.0,345.1 56.2,349.9 61.8,349.9" fill="#3FB0B5" stroke="#2a2a2a" stroke-width="0.5"/>
<polygon points="56.4,351.2 53.6,356.0 59.2,356.0" fill="#3FB0B5" stroke="#2a2a2a" stroke-width="0.5"/>
<polygon points="54.6,355.9 51.8,360.7 57.4,360.7" fill="#3FB0B5" stroke="#2a2a2a" stroke-width="0.5"/>
<polygon points="63.0,325.8 60.2,330.6 65.8,330.6" fill="#3FB0B5" stroke="#2a2a2a" stroke-width="0.5"/>
<circle cx="60.6" cy="327.8" r="2.3" fill="#4DBEC0"/>
<polygon points="49.5,343.5 46.7,348.3 52.3,348.3" fill="#3FB0B5" stroke="#2a2a2a" stroke-width="0.5"/>
<polygon points="62.2,335.4 59.4,340.2 65.0,340.2" fill="#3FB0B5" stroke="#2a2a2a" stroke-width="0.5"/>
<polygon points="59.7,335.2 56.9,340.0 62.5,340.0" fill="#3FB0B5" stroke="#2a2a2a" stroke-width="0.5"/>
<circle cx="57.3" cy="358.1" r="2.3" fill="#4DBEC0"/>
<circle cx="60.4" cy="357.0" r="2.3" fill="#4DBEC0"/>
<polygon points="49.1,355.4 46.3,360.2 51.9,360.2" fill="#3FB0B5" stroke="#2a2a2a" stroke-width="0.5"/>
<polygon points="47.9,353.1 45.1,357.9 50.7,357.9" fill="#3FB0B5" stroke="#2a2a2a" stroke-width="0.5"/>
<polygon points="61.5,354.7 58.7,359.5 64.3,359.5" fill="#3FB0B5" stroke="#2a2a2a" stroke-width="0.5"/>
<polygon points="63.3,327.8 60.5,332.6 66.1,332.6" fill="#3FB0B5" stroke="#2a2a2a" stroke-width="0.5"/>
<polygon points="48.1,329.5 45.3,334.3 50.9,334.3" fill="#3FB0B5" stroke="#2a2a2a" stroke-width="0.5"/>
<circle cx="59.4" cy="344.5" r="2.3" fill="#4DBEC0"/>
<circle cx="63.0" cy="334.6" r="2.3" fill="#4DBEC0"/>
<polygon points="56.9,348.5 54.1,353.3 59.7,353.3" fill="#3FB0B5" stroke="#2a2a2a" stroke-width="0.5"/>
<circle cx="50.5" cy="354.1" r="2.3" fill="#4DBEC0"/>
<polygon points="60.0,337.4 57.2,342.2 62.8,342.2" fill="#3FB0B5" stroke="#2a2a2a" stroke-width="0.5"/>
<polygon points="54.1,347.0 51.3,351.8 56.9,351.8" fill="#3FB0B5" stroke="#2a2a2a" stroke-width="0.5"/>
<polygon points="48.9,345.2 46.1,350.0 51.7,350.0" fill="#3FB0B5" stroke="#2a2a2a" stroke-width="0.5"/>
<polygon points="54.4,321.4 51.6,326.2 57.2,326.2" fill="#3FB0B5" stroke="#2a2a2a" stroke-width="0.5"/>
<polygon points="59.0,353.7 56.2,358.5 61.8,358.5" fill="#3FB0B5" stroke="#2a2a2a" stroke-width="0.5"/>
<polygon points="56.1,335.0 53.3,339.8 58.9,339.8" fill="#3FB0B5" stroke="#2a2a2a" stroke-width="0.5"/>
<circle cx="62.4" cy="339.2" r="2.3" fill="#4DBEC0"/>
<polygon points="59.9,355.3 57.1,360.1 62.7,360.1" fill="#3FB0B5" stroke="#2a2a2a" stroke-width="0.5"/>
<polygon points="54.9,341.4 52.1,346.2 57.7,346.2" fill="#3FB0B5" stroke="#2a2a2a" stroke-width="0.5"/>
<circle cx="51.9" cy="355.8" r="2.3" fill="#4DBEC0"/>
<circle cx="52.7" cy="341.5" r="2.3" fill="#4DBEC0"/>
<circle cx="63.3" cy="337.1" r="2.3" fill="#4DBEC0"/>
<polygon points="54.4,333.6 51.6,338.4 57.2,338.4" fill="#3FB0B5" stroke="#2a2a2a" stroke-width="0.5"/>
<circle cx="51.9" cy="341.6" r="2.3" fill="#4DBEC0"/>
<polygon points="55.5,356.8 52.7,361.6 58.3,361.6" fill="#3FB0B5" stroke="#2a2a2a" stroke-width="0.5"/>
<polygon points="53.5,353.3 50.7,358.1 56.3,358.1" fill="#3FB0B5" stroke="#2a2a2a" stroke-width="0.5"/>
<polygon points="49.9,330.6 47.1,335.4 52.7,335.4" fill="#3FB0B5" stroke="#2a2a2a" stroke-width="0.5"/>
<polygon points="57.4,342.9 54.6,347.7 60.2,347.7" fill="#3FB0B5" stroke="#2a2a2a" stroke-width="0.5"/>
<polygon points="61.1,327.8 58.3,332.6 63.9,332.6" fill="#3FB0B5" stroke="#2a2a2a" stroke-width="0.5"/>
<polygon points="59.5,342.8 56.7,347.6 62.3,347.6" fill="#3FB0B5" stroke="#2a2a2a" stroke-width="0.5"/>
<polygon points="59.7,345.8 56.9,350.6 62.5,350.6" fill="#3FB0B5" stroke="#2a2a2a" stroke-width="0.5"/>
<circle cx="51.3" cy="346.2" r="2.3" fill="#4DBEC0"/>
<polygon points="58.7,333.1 55.9,337.9 61.5,337.9" fill="#3FB0B5" stroke="#2a2a2a" stroke-width="0.5"/>
<circle cx="51.5" cy="329.9" r="2.3" fill="#4DBEC0"/>
<polygon points="50.6,350.7 47.8,355.5 53.4,355.5" fill="#3FB0B5" stroke="#2a2a2a" stroke-width="0.5"/>
<circle cx="62.4" cy="329.7" r="2.3" fill="#4DBEC0"/>
<polygon points="52.7,326.5 49.9,331.3 55.5,331.3" fill="#3FB0B5" stroke="#2a2a2a" stroke-width="0.5"/>
<circle cx="48.9" cy="335.5" r="2.3" fill="#4DBEC0"/>
<polygon points="52.3,327.9 49.5,332.7 55.1,332.7" fill="#3FB0B5" stroke="#2a2a2a" stroke-width="0.5"/>
<circle cx="58.7" cy="341.8" r="2.3" fill="#4DBEC0"/>
<polygon points="54.7,348.2 51.9,353.0 57.5,353.0" fill="#3FB0B5" stroke="#2a2a2a" stroke-width="0.5"/>
<polygon points="57.2,352.2 54.4,357.0 60.0,357.0" fill="#3FB0B5" stroke="#2a2a2a" stroke-width="0.5"/>
<circle cx="56.5" cy="349.1" r="2.3" fill="#4DBEC0"/>
<circle cx="58.5" cy="353.1" r="2.3" fill="#4DBEC0"/>
<circle cx="62.6" cy="328.3" r="2.3" fill="#4DBEC0"/>
<polygon points="53.7,322.9 50.9,327.7 56.5,327.7" fill="#3FB0B5" stroke="#2a2a2a" stroke-width="0.5"/>
<polygon points="52.4,331.3 49.6,336.1 55.2,336.1" fill="#3FB0B5" stroke="#2a2a2a" stroke-width="0.5"/>
<circle cx="60.9" cy="338.7" r="2.3" fill="#4DBEC0"/>
<polygon points="63.5,331.5 60.7,336.3 66.3,336.3" fill="#3FB0B5" stroke="#2a2a2a" stroke-width="0.5"/>
<polygon points="49.4,340.6 46.6,345.4 52.2,345.4" fill="#3FB0B5" stroke="#2a2a2a" stroke-width="0.5"/>
<polygon points="59.4,347.6 56.6,352.4 62.2,352.4" fill="#3FB0B5" stroke="#2a2a2a" stroke-width="0.5"/>
<polygon points="50.5,339.4 47.7,344.2 53.3,344.2" fill="#3FB0B5" stroke="#2a2a2a" stroke-width="0.5"/>
<polygon points="50.5,336.8 47.7,341.6 53.3,341.6" fill="#3FB0B5" stroke="#2a2a2a" stroke-width="0.5"/>
<polygon points="49.5,335.7 46.7,340.5 52.3,340.5" fill="#3FB0B5" stroke="#2a2a2a" stroke-width="0.5"/>
<polygon points="53.0,354.2 50.2,359.0 55.8,359.0" fill="#3FB0B5" stroke="#2a2a2a" stroke-width="0.5"/>
<polygon points="56.7,338.2 53.9,343.0 59.5,343.0" fill="#3FB0B5" stroke="#2a2a2a" stroke-width="0.5"/>
<circle cx="52.7" cy="346.6" r="2.3" fill="#4DBEC0"/>
<polygon points="59.4,356.0 56.6,360.8 62.2,360.8" fill="#3FB0B5" stroke="#2a2a2a" stroke-width="0.5"/>
<polygon points="59.8,340.4 57.0,345.2 62.6,345.2" fill="#3FB0B5" stroke="#2a2a2a" stroke-width="0.5"/>
<polygon points="53.9,350.5 51.1,355.3 56.7,355.3" fill="#3FB0B5" stroke="#2a2a2a" stroke-width="0.5"/>
<circle cx="55.9" cy="359.4" r="2.3" fill="#4DBEC0"/>
<polygon points="53.4,330.8 50.6,335.6 56.2,335.6" fill="#3FB0B5" stroke="#2a2a2a" stroke-width="0.5"/>
<polygon points="56.5,345.7 53.7,350.5 59.3,350.5" fill="#3FB0B5" stroke="#2a2a2a" stroke-width="0.5"/>
<circle cx="61.6" cy="350.4" r="2.3" fill="#4DBEC0"/>
<circle cx="49.2" cy="353.2" r="2.3" fill="#4DBEC0"/>
<circle cx="59.6" cy="333.3" r="2.3" fill="#4DBEC0"/>
<polygon points="54.4,352.9 51.6,357.7 57.2,357.7" fill="#3FB0B5" stroke="#2a2a2a" stroke-width="0.5"/>
<polygon points="59.9,328.7 57.1,333.5 62.7,333.5" fill="#3FB0B5" stroke="#2a2a2a" stroke-width="0.5"/>
<circle cx="54.1" cy="357.0" r="2.3" fill="#4DBEC0"/>
<circle cx="56.9" cy="343.9" r="2.3" fill="#4DBEC0"/>
<circle cx="60.5" cy="353.9" r="2.3" fill="#4DBEC0"/>
<polygon points="62.3,329.3 59.5,334.1 65.1,334.1" fill="#3FB0B5" stroke="#2a2a2a" stroke-width="0.5"/>
<polygon points="56.7,346.5 53.9,351.3 59.5,351.3" fill="#3FB0B5" stroke="#2a2a2a" stroke-width="0.5"/>
<polygon points="63.7,336.7 60.9,341.5 66.5,341.5" fill="#3FB0B5" stroke="#2a2a2a" stroke-width="0.5"/>
<polygon points="61.8,349.4 59.0,354.2 64.6,354.2" fill="#3FB0B5" stroke="#2a2a2a" stroke-width="0.5"/>
<circle cx="59.6" cy="340.9" r="2.3" fill="#4DBEC0"/>
<polygon points="58.5,330.7 55.7,335.5 61.3,335.5" fill="#3FB0B5" stroke="#2a2a2a" stroke-width="0.5"/>
<circle cx="55.1" cy="344.0" r="2.3" fill="#4DBEC0"/>
<polygon points="48.1,340.9 45.3,345.7 50.9,345.7" fill="#3FB0B5" stroke="#2a2a2a" stroke-width="0.5"/>
<polygon points="54.9,336.1 52.1,340.9 57.7,340.9" fill="#3FB0B5" stroke="#2a2a2a" stroke-width="0.5"/>
<circle cx="62.3" cy="325.0" r="2.3" fill="#4DBEC0"/>
<circle cx="57.8" cy="332.7" r="2.3" fill="#4DBEC0"/>
<circle cx="51.4" cy="350.2" r="2.3" fill="#4DBEC0"/>
<polygon points="62.9,340.5 60.1,345.3 65.7,345.3" fill="#3FB0B5" stroke="#2a2a2a" stroke-width="0.5"/>
<circle cx="59.0" cy="329.1" r="2.3" fill="#4DBEC0"/>
<polygon points="57.5,326.8 54.7,331.6 60.3,331.6" fill="#3FB0B5" stroke="#2a2a2a" stroke-width="0.5"/>
<polygon points="59.8,333.1 57.0,337.9 62.6,337.9" fill="#3FB0B5" stroke="#2a2a2a" stroke-width="0.5"/>
<polygon points="63.0,329.1 60.2,333.9 65.8,333.9" fill="#3FB0B5" stroke="#2a2a2a" stroke-width="0.5"/>
<polygon points="60.1,344.5 57.3,349.3 62.9,349.3" fill="#3FB0B5" stroke="#2a2a2a" stroke-width="0.5"/>
<polygon points="49.0,318.8 46.2,323.6 51.8,323.6" fill="#3FB0B5" stroke="#2a2a2a" stroke-width="0.5"/>
<polygon points="59.3,317.0 56.5,321.8 62.1,321.8" fill="#3FB0B5" stroke="#2a2a2a" stroke-width="0.5"/>
<polygon points="62.1,321.6 59.3,326.4 64.9,326.4" fill="#3FB0B5" stroke="#2a2a2a" stroke-width="0.5"/>
<polygon points="47.5,323.1 44.7,327.9 50.3,327.9" fill="#3FB0B5" stroke="#2a2a2a" stroke-width="0.5"/>
<polygon points="52.0,320.6 49.2,325.4 54.8,325.4" fill="#3FB0B5" stroke="#2a2a2a" stroke-width="0.5"/>
<polygon points="57.0,324.1 54.2,328.9 59.8,328.9" fill="#3FB0B5" stroke="#2a2a2a" stroke-width="0.5"/>
<polygon points="63.0,327.1 60.2,331.9 65.8,331.9" fill="#3FB0B5" stroke="#2a2a2a" stroke-width="0.5"/>
<polygon points="46.5,330.1 43.7,334.9 49.3,334.9" fill="#3FB0B5" stroke="#2a2a2a" stroke-width="0.5"/>
<polygon points="64.0,334.1 61.2,338.9 66.8,338.9" fill="#3FB0B5" stroke="#2a2a2a" stroke-width="0.5"/>
<polygon points="47.0,339.1 44.2,343.9 49.8,343.9" fill="#3FB0B5" stroke="#2a2a2a" stroke-width="0.5"/>
<polygon points="63.5,342.1 60.7,346.9 66.3,346.9" fill="#3FB0B5" stroke="#2a2a2a" stroke-width="0.5"/>
<polygon points="64.0,349.1 61.2,353.9 66.8,353.9" fill="#3FB0B5" stroke="#2a2a2a" stroke-width="0.5"/>
<circle cx="62.1" cy="302.1" r="2.3" fill="#4DBEC0"/>
<polygon points="62.1,305.2 59.3,310.0 64.9,310.0" fill="#3FB0B5" stroke="#2a2a2a" stroke-width="0.5"/>
<circle cx="62.6" cy="318.9" r="2.3" fill="#4DBEC0"/>
<circle cx="64.5" cy="328.0" r="2.3" fill="#4DBEC0"/>
<circle cx="63.5" cy="335.0" r="2.3" fill="#4DBEC0"/>
<polygon points="55.2,319.8 52.4,324.6 58.0,324.6" fill="#D81490" stroke="#2a2a2a" stroke-width="0.5"/>
<polygon points="52.4,336.0 49.6,340.8 55.2,340.8" fill="#D81490" stroke="#2a2a2a" stroke-width="0.5"/>
<polygon points="58.3,333.8 55.5,338.6 61.1,338.6" fill="#D81490" stroke="#2a2a2a" stroke-width="0.5"/>
<polygon points="48.4,344.6 45.6,349.4 51.2,349.4" fill="#D81490" stroke="#2a2a2a" stroke-width="0.5"/>
<polygon points="55.2,345.4 52.4,350.2 58.0,350.2" fill="#D81490" stroke="#2a2a2a" stroke-width="0.5"/>
<polygon points="61.1,347.8 58.3,352.6 63.9,352.6" fill="#D81490" stroke="#2a2a2a" stroke-width="0.5"/>
<polygon points="50.9,352.8 48.1,357.6 53.7,357.6" fill="#D81490" stroke="#2a2a2a" stroke-width="0.5"/>
<polygon points="59.3,345.0 56.5,349.8 62.1,349.8" fill="#9A3CD8" stroke="#2a2a2a" stroke-width="0.5"/>
<circle cx="107.8" cy="227.3" r="2.3" fill="#D95319"/>
<circle cx="109.8" cy="287.0" r="2.3" fill="#D95319"/>
<circle cx="109.8" cy="304.5" r="2.3" fill="#D95319"/>
<circle cx="110.6" cy="328.9" r="2.3" fill="#D95319"/>
<circle cx="106.0" cy="334.3" r="2.3" fill="#D95319"/>
<polygon points="100.2,310.5 97.4,315.3 103.0,315.3" fill="#C8501E" stroke="#2a2a2a" stroke-width="0.5"/>
<polygon points="110.1,310.5 107.3,315.3 112.9,315.3" fill="#C8501E" stroke="#2a2a2a" stroke-width="0.5"/>
<circle cx="151.0" cy="265.0" r="2.3" fill="#EDB120"/>
<circle cx="151.6" cy="266.5" r="2.3" fill="#EDB120"/>
<circle cx="160.6" cy="274.8" r="2.3" fill="#EDB120"/>
<circle cx="163.0" cy="275.5" r="2.3" fill="#EDB120"/>
<circle cx="158.3" cy="284.1" r="2.3" fill="#EDB120"/>
<circle cx="153.2" cy="290.7" r="2.3" fill="#EDB120"/>
<circle cx="150.2" cy="292.3" r="2.3" fill="#EDB120"/>
<circle cx="148.5" cy="295.3" r="2.3" fill="#EDB120"/>
<circle cx="161.8" cy="290.7" r="2.3" fill="#EDB120"/>
<circle cx="161.1" cy="293.0" r="2.3" fill="#EDB120"/>
<circle cx="163.1" cy="307.2" r="2.3" fill="#EDB120"/>
<circle cx="162.3" cy="316.9" r="2.3" fill="#EDB120"/>
<circle cx="162.3" cy="320.1" r="2.3" fill="#EDB120"/>
<circle cx="149.5" cy="330.5" r="2.3" fill="#EDB120"/>
<circle cx="149.1" cy="335.4" r="2.3" fill="#EDB120"/>
<circle cx="158.0" cy="331.0" r="2.3" fill="#EDB120"/>
<circle cx="152.7" cy="345.5" r="2.3" fill="#EDB120"/>
<polygon points="156.7,295.2 153.9,300.0 159.5,300.0" fill="#9A3CD8" stroke="#2a2a2a" stroke-width="0.5"/>
<polygon points="158.0,311.6 155.2,316.4 160.8,316.4" fill="#E0A520" stroke="#2a2a2a" stroke-width="0.5"/>
<polygon points="155.1,315.6 152.3,320.4 157.9,320.4" fill="#3FB0B5" stroke="#2a2a2a" stroke-width="0.5"/>
<polygon points="153.5,319.6 150.7,324.4 156.3,324.4" fill="#3FB0B5" stroke="#2a2a2a" stroke-width="0.5"/>
<polygon points="150.3,320.4 147.5,325.2 153.1,325.2" fill="#E0A520" stroke="#2a2a2a" stroke-width="0.5"/>
<polygon points="150.6,322.5 147.8,327.3 153.4,327.3" fill="#6B9E2A" stroke="#2a2a2a" stroke-width="0.5"/>
<polygon points="152.4,328.4 149.6,333.2 155.2,333.2" fill="#3FB0B5" stroke="#2a2a2a" stroke-width="0.5"/>
<polygon points="161.5,329.2 158.7,334.0 164.3,334.0" fill="#3FB0B5" stroke="#2a2a2a" stroke-width="0.5"/>
<polygon points="156.4,335.2 153.6,340.0 159.2,340.0" fill="#9A3CD8" stroke="#2a2a2a" stroke-width="0.5"/>
<polygon points="157.8,336.1 155.0,340.9 160.6,340.9" fill="#6B9E2A" stroke="#2a2a2a" stroke-width="0.5"/>
<circle cx="203.0" cy="247.2" r="2.3" fill="#A846E8"/>
<circle cx="202.6" cy="258.6" r="2.3" fill="#A846E8"/>
<circle cx="209.9" cy="263.2" r="2.3" fill="#A846E8"/>
<circle cx="205.0" cy="266.2" r="2.3" fill="#A846E8"/>
<circle cx="201.4" cy="273.5" r="2.3" fill="#A846E8"/>
<circle cx="199.0" cy="289.5" r="2.3" fill="#A846E8"/>
<circle cx="203.6" cy="292.1" r="2.3" fill="#A846E8"/>
<circle cx="208.6" cy="294.8" r="2.3" fill="#A846E8"/>
<circle cx="212.8" cy="300.2" r="2.3" fill="#A846E8"/>
<circle cx="210.3" cy="304.4" r="2.3" fill="#A846E8"/>
<circle cx="212.0" cy="308.6" r="2.3" fill="#A846E8"/>
<circle cx="203.6" cy="312.8" r="2.3" fill="#A846E8"/>
<circle cx="212.8" cy="314.5" r="2.3" fill="#A846E8"/>
<circle cx="200.2" cy="317.0" r="2.3" fill="#A846E8"/>
<circle cx="211.1" cy="317.8" r="2.3" fill="#A846E8"/>
<circle cx="201.9" cy="320.4" r="2.3" fill="#A846E8"/>
<circle cx="210.3" cy="321.2" r="2.3" fill="#A846E8"/>
<circle cx="201.9" cy="343.1" r="2.3" fill="#A846E8"/>
<circle cx="207.0" cy="305.0" r="2.3" fill="#A846E8"/>
<circle cx="204.0" cy="300.0" r="2.3" fill="#A846E8"/>
<polygon points="201.5,293.5 198.7,298.3 204.3,298.3" fill="#9A3CD8" stroke="#2a2a2a" stroke-width="0.5"/>
<polygon points="200.2,298.1 197.4,302.9 203.0,302.9" fill="#9A3CD8" stroke="#2a2a2a" stroke-width="0.5"/>
<polygon points="206.9,298.1 204.1,302.9 209.7,302.9" fill="#9A3CD8" stroke="#2a2a2a" stroke-width="0.5"/>
<polygon points="210.3,298.1 207.5,302.9 213.1,302.9" fill="#9A3CD8" stroke="#2a2a2a" stroke-width="0.5"/>
<polygon points="201.0,304.8 198.2,309.6 203.8,309.6" fill="#9A3CD8" stroke="#2a2a2a" stroke-width="0.5"/>
<polygon points="205.3,304.8 202.5,309.6 208.1,309.6" fill="#9A3CD8" stroke="#2a2a2a" stroke-width="0.5"/>
<polygon points="210.3,306.5 207.5,311.3 213.1,311.3" fill="#9A3CD8" stroke="#2a2a2a" stroke-width="0.5"/>
<polygon points="200.2,309.0 197.4,313.8 203.0,313.8" fill="#9A3CD8" stroke="#2a2a2a" stroke-width="0.5"/>
<polygon points="202.7,312.4 199.9,317.2 205.5,317.2" fill="#9A3CD8" stroke="#2a2a2a" stroke-width="0.5"/>
<polygon points="205.3,314.9 202.5,319.7 208.1,319.7" fill="#9A3CD8" stroke="#2a2a2a" stroke-width="0.5"/>
<polygon points="206.1,317.5 203.3,322.3 208.9,322.3" fill="#9A3CD8" stroke="#2a2a2a" stroke-width="0.5"/>
<polygon points="207.8,321.7 205.0,326.5 210.6,326.5" fill="#9A3CD8" stroke="#2a2a2a" stroke-width="0.5"/>
<polygon points="205.3,323.3 202.5,328.1 208.1,328.1" fill="#9A3CD8" stroke="#2a2a2a" stroke-width="0.5"/>
<polygon points="212.0,326.7 209.2,331.5 214.8,331.5" fill="#9A3CD8" stroke="#2a2a2a" stroke-width="0.5"/>
<polygon points="206.1,329.2 203.3,334.0 208.9,334.0" fill="#9A3CD8" stroke="#2a2a2a" stroke-width="0.5"/>
<polygon points="212.0,333.4 209.2,338.2 214.8,338.2" fill="#9A3CD8" stroke="#2a2a2a" stroke-width="0.5"/>
<polygon points="209.5,336.0 206.7,340.8 212.3,340.8" fill="#9A3CD8" stroke="#2a2a2a" stroke-width="0.5"/>
<polygon points="206.9,338.5 204.1,343.3 209.7,343.3" fill="#9A3CD8" stroke="#2a2a2a" stroke-width="0.5"/>
<polygon points="203.5,295.6 200.7,300.4 206.3,300.4" fill="#9A3CD8" stroke="#2a2a2a" stroke-width="0.5"/>
<polygon points="208.5,294.6 205.7,299.4 211.3,299.4" fill="#9A3CD8" stroke="#2a2a2a" stroke-width="0.5"/>
<polygon points="199.0,302.6 196.2,307.4 201.8,307.4" fill="#9A3CD8" stroke="#2a2a2a" stroke-width="0.5"/>
<polygon points="204.0,301.1 201.2,305.9 206.8,305.9" fill="#9A3CD8" stroke="#2a2a2a" stroke-width="0.5"/>
<polygon points="209.0,310.6 206.2,315.4 211.8,315.4" fill="#9A3CD8" stroke="#2a2a2a" stroke-width="0.5"/>
<polygon points="199.0,319.6 196.2,324.4 201.8,324.4" fill="#9A3CD8" stroke="#2a2a2a" stroke-width="0.5"/>
<polygon points="203.5,315.6 200.7,320.4 206.3,320.4" fill="#9A3CD8" stroke="#2a2a2a" stroke-width="0.5"/>
<polygon points="208.0,313.1 205.2,317.9 210.8,317.9" fill="#9A3CD8" stroke="#2a2a2a" stroke-width="0.5"/>
<polygon points="199.5,311.6 196.7,316.4 202.3,316.4" fill="#9A3CD8" stroke="#2a2a2a" stroke-width="0.5"/>
<circle cx="212.5" cy="305.0" r="2.3" fill="#A846E8"/>
<circle cx="213.0" cy="318.0" r="2.3" fill="#A846E8"/>
<circle cx="200.5" cy="309.0" r="2.3" fill="#A846E8"/>
<polygon points="203.6,321.7 200.8,326.5 206.4,326.5" fill="#D81490" stroke="#2a2a2a" stroke-width="0.5"/>
<polygon points="200.2,325.0 197.4,329.8 203.0,329.8" fill="#D81490" stroke="#2a2a2a" stroke-width="0.5"/>
<polygon points="213.2,341.4 210.4,346.2 216.0,346.2" fill="#3FB0B5" stroke="#2a2a2a" stroke-width="0.5"/>
<circle cx="257.2" cy="240.5" r="2.3" fill="#77AC30"/>
<circle cx="259.9" cy="244.5" r="2.3" fill="#77AC30"/>
<circle cx="251.2" cy="247.6" r="2.3" fill="#77AC30"/>
<circle cx="256.3" cy="261.3" r="2.3" fill="#77AC30"/>
<circle cx="259.3" cy="265.0" r="2.3" fill="#77AC30"/>
<circle cx="251.5" cy="288.7" r="2.3" fill="#77AC30"/>
<circle cx="252.7" cy="292.6" r="2.3" fill="#77AC30"/>
<circle cx="252.4" cy="296.4" r="2.3" fill="#77AC30"/>
<circle cx="251.9" cy="300.2" r="2.3" fill="#77AC30"/>
<circle cx="249.4" cy="308.6" r="2.3" fill="#77AC30"/>
<circle cx="254.4" cy="306.5" r="2.3" fill="#77AC30"/>
<circle cx="259.0" cy="305.2" r="2.3" fill="#77AC30"/>
<circle cx="263.7" cy="307.4" r="2.3" fill="#77AC30"/>
<circle cx="260.0" cy="309.4" r="2.3" fill="#77AC30"/>
<circle cx="250.7" cy="313.6" r="2.3" fill="#77AC30"/>
<circle cx="254.9" cy="317.0" r="2.3" fill="#77AC30"/>
<circle cx="252.7" cy="319.5" r="2.3" fill="#77AC30"/>
<circle cx="256.1" cy="320.4" r="2.3" fill="#77AC30"/>
<circle cx="253.6" cy="322.9" r="2.3" fill="#77AC30"/>
<circle cx="257.8" cy="325.4" r="2.3" fill="#77AC30"/>
<circle cx="263.3" cy="331.3" r="2.3" fill="#77AC30"/>
<circle cx="249.4" cy="339.7" r="2.3" fill="#77AC30"/>
<circle cx="254.4" cy="338.9" r="2.3" fill="#77AC30"/>
<circle cx="256.0" cy="312.0" r="2.3" fill="#77AC30"/>
<circle cx="252.0" cy="327.0" r="2.3" fill="#77AC30"/>
<polygon points="259.0,310.7 256.2,315.5 261.8,315.5" fill="#6B9E2A" stroke="#2a2a2a" stroke-width="0.5"/>
<polygon points="262.5,312.7 259.7,317.5 265.3,317.5" fill="#6B9E2A" stroke="#2a2a2a" stroke-width="0.5"/>
<polygon points="249.4,319.5 246.6,324.3 252.2,324.3" fill="#6B9E2A" stroke="#2a2a2a" stroke-width="0.5"/>
<polygon points="260.8,320.5 258.0,325.3 263.6,325.3" fill="#6B9E2A" stroke="#2a2a2a" stroke-width="0.5"/>
<polygon points="249.4,331.4 246.6,336.2 252.2,336.2" fill="#6B9E2A" stroke="#2a2a2a" stroke-width="0.5"/>
<polygon points="253.6,338.5 250.8,343.3 256.4,343.3" fill="#6B9E2A" stroke="#2a2a2a" stroke-width="0.5"/>
<polygon points="262.5,341.9 259.7,346.7 265.3,346.7" fill="#6B9E2A" stroke="#2a2a2a" stroke-width="0.5"/>
<polygon points="258.3,324.2 255.5,329.0 261.1,329.0" fill="#9A3CD8" stroke="#2a2a2a" stroke-width="0.5"/>
<polygon points="250.5,326.7 247.7,331.5 253.3,331.5" fill="#D81490" stroke="#2a2a2a" stroke-width="0.5"/>
<polygon points="254.9,326.4 252.1,331.2 257.7,331.2" fill="#3FB0B5" stroke="#2a2a2a" stroke-width="0.5"/>
<polygon points="259.5,332.6 256.7,337.4 262.3,337.4" fill="#D81490" stroke="#2a2a2a" stroke-width="0.5"/>
<polygon points="262.8,332.6 260.0,337.4 265.6,337.4" fill="#D81490" stroke="#2a2a2a" stroke-width="0.5"/>
<polygon points="256.6,340.2 253.8,345.0 259.4,345.0" fill="#E0A520" stroke="#2a2a2a" stroke-width="0.5"/>
<circle cx="303.6" cy="240.7" r="2.3" fill="#E31C9E"/>
<circle cx="306.8" cy="253.7" r="2.3" fill="#E31C9E"/>
<circle cx="302.3" cy="257.0" r="2.3" fill="#E31C9E"/>
<circle cx="304.5" cy="268.7" r="2.3" fill="#E31C9E"/>
<circle cx="307.5" cy="296.6" r="2.3" fill="#E31C9E"/>
<circle cx="311.9" cy="300.9" r="2.3" fill="#E31C9E"/>
<circle cx="308.9" cy="304.5" r="2.3" fill="#E31C9E"/>
<circle cx="307.9" cy="311.5" r="2.3" fill="#E31C9E"/>
<circle cx="311.9" cy="320.9" r="2.3" fill="#E31C9E"/>
<circle cx="298.9" cy="325.8" r="2.3" fill="#E31C9E"/>
<circle cx="299.9" cy="332.8" r="2.3" fill="#E31C9E"/>
<circle cx="303.9" cy="333.8" r="2.3" fill="#E31C9E"/>
<circle cx="298.9" cy="337.8" r="2.3" fill="#E31C9E"/>
<circle cx="305.5" cy="339.2" r="2.3" fill="#E31C9E"/>
<circle cx="299.9" cy="340.8" r="2.3" fill="#E31C9E"/>
<circle cx="303.5" cy="350.7" r="2.3" fill="#E31C9E"/>
<circle cx="310.9" cy="349.7" r="2.3" fill="#E31C9E"/>
<circle cx="312.9" cy="349.7" r="2.3" fill="#E31C9E"/>
<circle cx="303.5" cy="354.3" r="2.3" fill="#E31C9E"/>
<circle cx="300.9" cy="357.7" r="2.3" fill="#E31C9E"/>
<circle cx="311.9" cy="358.7" r="2.3" fill="#E31C9E"/>
<polygon points="311.7,224.9 308.9,229.7 314.5,229.7" fill="#D81490" stroke="#2a2a2a" stroke-width="0.5"/>
<polygon points="302.1,287.6 299.3,292.4 304.9,292.4" fill="#D81490" stroke="#2a2a2a" stroke-width="0.5"/>
<polygon points="302.5,307.6 299.7,312.4 305.3,312.4" fill="#D81490" stroke="#2a2a2a" stroke-width="0.5"/>
<polygon points="311.5,306.0 308.7,310.8 314.3,310.8" fill="#D81490" stroke="#2a2a2a" stroke-width="0.5"/>
<polygon points="298.3,314.0 295.5,318.8 301.1,318.8" fill="#D81490" stroke="#2a2a2a" stroke-width="0.5"/>
<polygon points="300.5,318.0 297.7,322.8 303.3,322.8" fill="#D81490" stroke="#2a2a2a" stroke-width="0.5"/>
<polygon points="307.3,320.9 304.5,325.7 310.1,325.7" fill="#D81490" stroke="#2a2a2a" stroke-width="0.5"/>
<polygon points="309.5,323.9 306.7,328.7 312.3,328.7" fill="#D81490" stroke="#2a2a2a" stroke-width="0.5"/>
<polygon points="302.9,325.9 300.1,330.7 305.7,330.7" fill="#D81490" stroke="#2a2a2a" stroke-width="0.5"/>
<polygon points="305.9,326.9 303.1,331.7 308.7,331.7" fill="#D81490" stroke="#2a2a2a" stroke-width="0.5"/>
<polygon points="311.9,327.9 309.1,332.7 314.7,332.7" fill="#D81490" stroke="#2a2a2a" stroke-width="0.5"/>
<polygon points="309.5,340.3 306.7,345.1 312.3,345.1" fill="#D81490" stroke="#2a2a2a" stroke-width="0.5"/>
<circle cx="300.0" cy="318.0" r="2.3" fill="#E31C9E"/>
<circle cx="304.5" cy="322.0" r="2.3" fill="#E31C9E"/>
<circle cx="308.5" cy="316.5" r="2.3" fill="#E31C9E"/>
<circle cx="298.0" cy="330.0" r="2.3" fill="#E31C9E"/>
<circle cx="306.5" cy="335.5" r="2.3" fill="#E31C9E"/>
<circle cx="310.5" cy="338.0" r="2.3" fill="#E31C9E"/>
<circle cx="302.0" cy="345.0" r="2.3" fill="#E31C9E"/>
<circle cx="298.0" cy="347.5" r="2.3" fill="#E31C9E"/>
<circle cx="308.0" cy="353.5" r="2.3" fill="#E31C9E"/>
<circle cx="313.0" cy="326.0" r="2.3" fill="#E31C9E"/>
<polygon points="302.5,307.6 299.7,312.4 305.3,312.4" fill="#D81490" stroke="#2a2a2a" stroke-width="0.5"/>
<polygon points="311.5,306.0 308.7,310.8 314.3,310.8" fill="#D81490" stroke="#2a2a2a" stroke-width="0.5"/>
<polygon points="300.5,318.0 297.7,322.8 303.3,322.8" fill="#D81490" stroke="#2a2a2a" stroke-width="0.5"/>
<polygon points="307.3,320.9 304.5,325.7 310.1,325.7" fill="#D81490" stroke="#2a2a2a" stroke-width="0.5"/>
<polygon points="309.5,323.9 306.7,328.7 312.3,328.7" fill="#D81490" stroke="#2a2a2a" stroke-width="0.5"/>
<polygon points="302.9,325.9 300.1,330.7 305.7,330.7" fill="#D81490" stroke="#2a2a2a" stroke-width="0.5"/>
<polygon points="305.9,326.9 303.1,331.7 308.7,331.7" fill="#D81490" stroke="#2a2a2a" stroke-width="0.5"/>
<polygon points="311.9,327.9 309.1,332.7 314.7,332.7" fill="#D81490" stroke="#2a2a2a" stroke-width="0.5"/>
<polygon points="309.5,340.3 306.7,345.1 312.3,345.1" fill="#D81490" stroke="#2a2a2a" stroke-width="0.5"/>
<polygon points="305.5,341.9 302.7,346.7 308.3,346.7" fill="#3FB0B5" stroke="#2a2a2a" stroke-width="0.5"/>
<rect x="379.15" y="281.90" width="10.3" height="68.40" fill="#E99572"/>
<text x="384.30" y="280.08" font-size="8.4" text-anchor="middle" fill="#111" stroke="#111" stroke-width="0.18">0.576</text>
<rect x="399.25" y="316.40" width="10.3" height="33.90" fill="#E99572"/>
<text x="404.40" y="314.58" font-size="8.4" text-anchor="middle" fill="#111" stroke="#111" stroke-width="0.18">0.462</text>
<rect x="419.45" y="272.82" width="10.3" height="77.48" fill="#E99572"/>
<text x="424.60" y="271.00" font-size="8.4" text-anchor="middle" fill="#111" stroke="#111" stroke-width="0.18">0.606</text>
<rect x="439.65" y="223.48" width="10.3" height="126.82" fill="#2C79B1"/>
<text x="444.80" y="221.66" font-size="8.4" text-anchor="middle" fill="#111" stroke="#111" stroke-width="0.18">0.769</text>
<rect x="363.7" y="214.1" width="100.50" height="136.20" fill="none" stroke="#262626" stroke-width="0.9"/>
<line x1="361.70" y1="335.17" x2="363.70" y2="335.17" stroke="#262626" stroke-width="0.9"/>
<text x="360.00" y="338.08" font-size="8.2" text-anchor="end" fill="#111" stroke="#111" stroke-width="0.18">0.4</text>
<line x1="361.70" y1="304.90" x2="363.70" y2="304.90" stroke="#262626" stroke-width="0.9"/>
<text x="360.00" y="307.81" font-size="8.2" text-anchor="end" fill="#111" stroke="#111" stroke-width="0.18">0.5</text>
<line x1="361.70" y1="274.63" x2="363.70" y2="274.63" stroke="#262626" stroke-width="0.9"/>
<text x="360.00" y="277.54" font-size="8.2" text-anchor="end" fill="#111" stroke="#111" stroke-width="0.18">0.6</text>
<line x1="361.70" y1="244.37" x2="363.70" y2="244.37" stroke="#262626" stroke-width="0.9"/>
<text x="360.00" y="247.28" font-size="8.2" text-anchor="end" fill="#111" stroke="#111" stroke-width="0.18">0.7</text>
<line x1="361.70" y1="214.10" x2="363.70" y2="214.10" stroke="#262626" stroke-width="0.9"/>
<text x="360.00" y="217.01" font-size="8.2" text-anchor="end" fill="#111" stroke="#111" stroke-width="0.18">0.8</text>
<line x1="384.20" y1="350.30" x2="384.20" y2="352.30" stroke="#262626" stroke-width="0.9"/>
<text x="386.80" y="362.65" font-size="8.6" text-anchor="end" fill="#111" stroke="#111" stroke-width="0.18" transform="rotate(-30 386.80 359.60)">RF</text>
<line x1="404.20" y1="350.30" x2="404.20" y2="352.30" stroke="#262626" stroke-width="0.9"/>
<text x="406.80" y="362.65" font-size="8.6" text-anchor="end" fill="#111" stroke="#111" stroke-width="0.18" transform="rotate(-30 406.80 359.60)">MLP</text>
<line x1="424.30" y1="350.30" x2="424.30" y2="352.30" stroke="#262626" stroke-width="0.9"/>
<text x="426.90" y="362.65" font-size="8.6" text-anchor="end" fill="#111" stroke="#111" stroke-width="0.18" transform="rotate(-30 426.90 359.60)">SVM</text>
<line x1="444.30" y1="350.30" x2="444.30" y2="352.30" stroke="#262626" stroke-width="0.9"/>
<text x="446.90" y="362.65" font-size="8.6" text-anchor="end" fill="#111" stroke="#111" stroke-width="0.18" transform="rotate(-30 446.90 359.60)">SRFD-Bayes</text>
<line x1="464.20" y1="350.30" x2="464.20" y2="352.30" stroke="#262626" stroke-width="0.9"/>
<text x="340.90" y="286.63" font-size="9.1" text-anchor="middle" fill="#111" stroke="#111" stroke-width="0.18" transform="rotate(-90 340.90 283.40)">Average localization accuracy</text>
<polygon points="579.29,273.45 589.08,290.40 579.29,307.35 559.71,307.35 549.92,290.40 559.71,273.45" fill="none" stroke="#555" stroke-width="0.7" stroke-dasharray="3,2.2"/>
<polygon points="589.08,256.50 608.65,290.40 589.08,324.30 549.92,324.30 530.35,290.40 549.92,256.50" fill="none" stroke="#555" stroke-width="0.7" stroke-dasharray="3,2.2"/>
<polygon points="598.86,239.54 628.23,290.40 598.86,341.26 540.14,341.26 510.77,290.40 540.14,239.54" fill="none" stroke="#555" stroke-width="0.7" stroke-dasharray="3,2.2"/>
<polygon points="608.65,222.59 647.80,290.40 608.65,358.21 530.35,358.21 491.20,290.40 530.35,222.59" fill="none" stroke="#555" stroke-width="0.7" stroke-dasharray="3,2.2"/>
<line x1="569.50" y1="290.40" x2="608.65" y2="222.59" stroke="#555" stroke-width="0.7" stroke-dasharray="3,2.2"/>
<line x1="569.50" y1="290.40" x2="647.80" y2="290.40" stroke="#555" stroke-width="0.7" stroke-dasharray="3,2.2"/>
<line x1="569.50" y1="290.40" x2="608.65" y2="358.21" stroke="#555" stroke-width="0.7" stroke-dasharray="3,2.2"/>
<line x1="569.50" y1="290.40" x2="530.35" y2="358.21" stroke="#555" stroke-width="0.7" stroke-dasharray="3,2.2"/>
<line x1="569.50" y1="290.40" x2="491.20" y2="290.40" stroke="#555" stroke-width="0.7" stroke-dasharray="3,2.2"/>
<line x1="569.50" y1="290.40" x2="530.35" y2="222.59" stroke="#555" stroke-width="0.7" stroke-dasharray="3,2.2"/>
<polygon points="608.06,223.61 646.63,290.40 595.73,335.83 535.56,349.19 519.07,290.40 549.53,255.82" fill="#0000FF" fill-opacity="0.2" stroke="none"/>
<polygon points="608.65,222.59 609.12,290.40 582.30,312.57 542.49,337.19 512.03,290.40 553.06,261.92" fill="#FFFF00" fill-opacity="0.2" stroke="none"/>
<polygon points="608.65,222.59 569.50,290.40 569.50,290.40 542.10,337.87 512.03,290.40 556.19,267.34" fill="#00FF00" fill-opacity="0.2" stroke="none"/>
<polygon points="608.65,222.59 647.80,290.40 569.50,290.40 546.52,330.20 512.03,290.40 563.63,280.23" fill="#FF0000" fill-opacity="0.2" stroke="none"/>
<polygon points="608.06,223.61 646.63,290.40 595.73,335.83 535.56,349.19 519.07,290.40 549.53,255.82" fill="none" stroke="#0000FF" stroke-width="1.2" stroke-linejoin="miter"/>
<polygon points="608.65,222.59 609.12,290.40 582.30,312.57 542.49,337.19 512.03,290.40 553.06,261.92" fill="none" stroke="#FFFF00" stroke-width="1.2" stroke-linejoin="miter"/>
<polygon points="608.65,222.59 569.50,290.40 569.50,290.40 542.10,337.87 512.03,290.40 556.19,267.34" fill="none" stroke="#00E600" stroke-width="1.2" stroke-linejoin="miter"/>
<polygon points="608.65,222.59 647.80,290.40 569.50,290.40 546.52,330.20 512.03,290.40 563.63,280.23" fill="none" stroke="#FF0000" stroke-width="1.2" stroke-linejoin="miter"/>
<text x="569.20" y="289.02" font-size="8.8" text-anchor="end" fill="#111" stroke="#111" stroke-width="0.18">0</text>
<text x="578.99" y="272.07" font-size="8.8" text-anchor="end" fill="#111" stroke="#111" stroke-width="0.18">0.25</text>
<text x="588.78" y="255.12" font-size="8.8" text-anchor="end" fill="#111" stroke="#111" stroke-width="0.18">0.5</text>
<text x="598.56" y="238.17" font-size="8.8" text-anchor="end" fill="#111" stroke="#111" stroke-width="0.18">0.75</text>
<text x="610.35" y="221.21" font-size="8.8" text-anchor="end" fill="#111" stroke="#111" stroke-width="0.18">1.0</text>
<text x="614.60" y="221.87" font-size="9.5" text-anchor="start" fill="#111" stroke="#111" stroke-width="0.18">Normal controls</text>
<text x="526.00" y="221.37" font-size="9.5" text-anchor="middle" fill="#111" stroke="#111" stroke-width="0.18">Stomach</text>
<text x="488.80" y="293.57" font-size="9.5" text-anchor="end" fill="#111" stroke="#111" stroke-width="0.18">Lung</text>
<text x="650.00" y="293.77" font-size="9.5" text-anchor="start" fill="#111" stroke="#111" stroke-width="0.18">Colon</text>
<text x="525.90" y="369.67" font-size="9.5" text-anchor="middle" fill="#111" stroke="#111" stroke-width="0.18">Esophageal</text>
<text x="613.10" y="369.67" font-size="9.5" text-anchor="middle" fill="#111" stroke="#111" stroke-width="0.18">Liver</text>
<rect x="619.3" y="319.5" width="64.9" height="39.9" fill="none" stroke="#999" stroke-width="0.7"/>
<line x1="620.20" y1="324.60" x2="635.00" y2="324.60" stroke="#FF0000" stroke-width="1.2"/>
<text x="636.50" y="327.55" font-size="8.3" text-anchor="start" fill="#111" stroke="#111" stroke-width="0.18">RF</text>
<line x1="620.20" y1="333.90" x2="635.00" y2="333.90" stroke="#00E600" stroke-width="1.2"/>
<text x="636.50" y="336.85" font-size="8.3" text-anchor="start" fill="#111" stroke="#111" stroke-width="0.18">MLP</text>
<line x1="620.20" y1="343.50" x2="635.00" y2="343.50" stroke="#FFFF00" stroke-width="1.2"/>
<text x="636.50" y="346.45" font-size="8.3" text-anchor="start" fill="#111" stroke="#111" stroke-width="0.18">SVM</text>
<line x1="620.20" y1="352.80" x2="635.00" y2="352.80" stroke="#0000FF" stroke-width="1.2"/>
<text x="636.50" y="355.75" font-size="8.3" text-anchor="start" fill="#111" stroke="#111" stroke-width="0.18">SRFD-Bayes</text>
</svg>
</body></html>
